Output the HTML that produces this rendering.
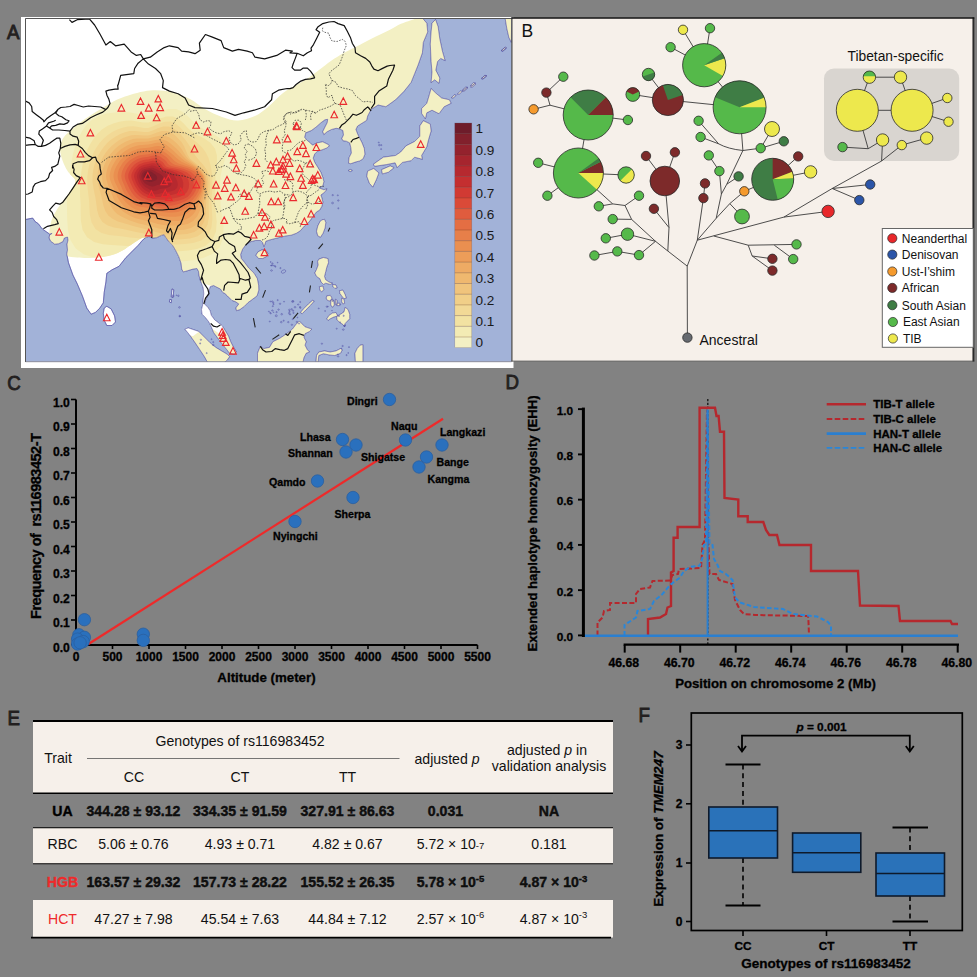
<!DOCTYPE html>
<html><head><meta charset="utf-8"><title>Figure</title>
<style>
html,body{margin:0;padding:0;background:#828282;}
body{width:977px;height:977px;overflow:hidden;font-family:"Liberation Sans", sans-serif;}
svg{display:block;font-family:"Liberation Sans", sans-serif;}
</style></head><body>
<svg width="977" height="977" viewBox="0 0 977 977">
<rect width="977" height="977" fill="#828282"/>
<g id="A">
<rect x="21" y="17" width="492.5" height="351" fill="#fff"/>
<defs>
<clipPath id="mapclip"><rect x="25.5" y="18.5" width="486" height="343"/></clipPath>
<clipPath id="landclip"><path d="M25,18 L422.4,18 L422.4,18 L426.8,23.2 L427.7,31.9 L423.3,42.4 L422.4,52.8 L418.1,65 L414.6,73.7 L411.1,82.4 L404.2,91.1 L395.5,99.8 L385.9,106.7 L378.1,105 L371.1,109.4 L367.7,115.9 L366.6,120.4 L362.1,123.2 L357.6,126 L355.9,129.4 L357.6,133.9 L359.2,137.3 L362.1,142.9 L364.3,148.5 L364.9,154.2 L363.2,158.7 L359.8,160.9 L355.3,162.1 L350.8,163.7 L348.5,163.2 L349.1,157.6 L351.4,153 L350.8,147.4 L349.7,142.9 L346.3,141.2 L342.9,140.7 L341.8,138.4 L343.5,135 L342.9,130.5 L339.5,128.8 L336.2,128.3 L331.7,129.4 L327.2,131.7 L323.8,134.5 L322.7,131.7 L324.9,127.2 L327.2,122.7 L327.7,119.3 L324.9,119.8 L320.4,123.2 L315.9,127.2 L311.4,130.5 L305.8,132.8 L304.6,137.3 L306.9,140.1 L310.3,142.9 L312.5,145.2 L317,142.9 L322.7,141.8 L327.2,144 L329.4,145.7 L327,147.9 L321.9,149.9 L317.8,150.9 L314.7,154 L313.2,158.1 L314.7,162.2 L317.8,167.3 L320.9,172.4 L322.9,177.6 L323.9,181.6 L322.9,185.7 L318.8,187.8 L323.9,189.8 L327,188.8 L325,191.9 L320.9,195 L321.9,198 L322.9,202.1 L321.9,206.2 L319.8,210 L316.5,211.9 L312.5,217.3 L308.5,222.6 L304.5,225.9 L300.5,230.6 L296.5,233.2 L291.2,235.2 L285.9,235.9 L280.6,237.2 L275.2,238.5 L269.9,239.9 L265.9,241.2 L264.6,245.2 L263.9,246.5 L262.6,242.5 L260.6,240.5 L255.3,240.5 L250,241.9 L246,244.5 L242.6,249.2 L240.6,254.5 L241.3,258.5 L244.6,262.5 L248.6,267.8 L254,273.1 L257.3,278.5 L258.6,285.1 L258.8,290.1 L257.1,295.8 L252.5,299.3 L247.9,302.7 L244.5,306.2 L239.9,309.6 L236.5,310.7 L235.9,307.9 L238.8,303.9 L235.3,301.6 L231.9,300.4 L229.6,298.1 L227.3,295.8 L225,293.6 L222.7,292.4 L220.4,289 L215.8,286.7 L213.6,285.5 L210.1,286.7 L209,291.3 L207.8,295.8 L205.5,300.4 L204.4,303.9 L207.8,307.3 L210.1,310.7 L211.3,315.3 L214.7,319.9 L219.3,323.4 L222.1,325.6 L225,330.2 L228.5,336 L230.7,341.7 L233.6,347.4 L236.5,352 L234.2,354.3 L229.6,353.2 L225,347.4 L220.4,341.7 L217,337.1 L213.6,332.5 L211.3,326.8 L209,322.2 L205.5,317.6 L202.1,314.2 L201.5,309.6 L202.7,305 L203.2,299.3 L203.8,293.6 L203.2,287.8 L200.2,280 L199.1,275.8 L198.5,271.3 L196.9,268.5 L192.9,269.1 L187.3,270.8 L183.3,271.9 L181.7,269.1 L181.1,263.4 L178.8,256.7 L176,251.1 L172.7,245.4 L169.3,242.1 L165.9,237.6 L164.2,234.7 L161.4,235.3 L156.9,237.6 L152.4,238.1 L149,236.4 L145.6,237.6 L142.3,240.4 L140,243.2 L138.1,245.4 L132.9,250.6 L125.9,257.6 L119,266.3 L112,269.8 L106.8,273.3 L105.9,282 L104.2,292.4 L103.3,302.8 L99.8,308.1 L95.5,312.4 L91.1,314.2 L86.8,308.1 L82.4,295.9 L77.2,283.7 L72.9,275 L68.5,262.8 L66.8,254.1 L67.5,250 L67,244.2 L68,240.1 L67.5,237 L64.4,238 L62.9,241.6 L58.8,243.7 L54.7,244.2 L50.6,241.1 L49.1,238 L49.6,235 L52.1,233.4 L49.6,234.1 L46.5,231.9 L43.4,229.8 L41.4,227.8 L38.3,223.7 L35.2,221.6 L32.7,218.1 L25,219.6Z M106.8,306.3 L111.1,308.9 L114.6,315.9 L115.5,322 L112,325.5 L106.8,325.5 L104.2,320.2 L103.3,313.3 L104.2,308.1Z M255.9,255.2 L257.9,251.9 L261.9,249.9 L265.9,250.5 L267.9,253.2 L266.6,256.5 L262.6,258.5 L258.6,258.5Z M321.8,219.9 L324.5,219.3 L325.8,222.6 L325.1,227.9 L323.1,233.2 L320.5,237.2 L317.8,235.9 L316.5,231.2 L317.8,225.9 L319.8,221.9Z M318.8,259.2 L323.4,257.5 L328,258.6 L328.5,262.6 L326.8,267.2 L325.7,271.8 L324.5,276.4 L325.7,279.8 L329.1,282.1 L332.5,283.2 L330.2,284.4 L325.7,283.2 L323.4,284.4 L321.1,282.1 L319.9,278.7 L316.5,276.4 L314.8,272.9 L316.5,269.5 L318.2,264.9 L317.6,261.5Z M319.4,286.7 L322.8,286.1 L323.9,289.6 L321.6,291.8 L319.9,290.1Z M339.4,290.7 L342.9,290.1 L345.2,294.7 L346.3,298.1 L344,298.7 L341.7,295.9 L340,293.6Z M332.5,284.4 L336,285 L337.1,287.8 L334.8,288.4 L333.1,286.7Z M326.8,295.9 L330.2,295.3 L332,298.1 L330.2,301 L327.4,300.4 L326.2,298.1Z M331.4,299.3 L333.7,300.4 L334.3,305 L332.5,307.3 L330.8,305 L330.8,301.6Z M335.4,299.3 L337.1,300.4 L336.6,305 L335.4,304.5Z M337.1,303.3 L340,303.3 L339.4,305.6 L337.1,305.6Z M341.7,298.1 L344,299.3 L344.6,303.3 L342.9,303.9 L341.7,301.6Z M336.6,316.5 L340.6,314.2 L344,311.9 L345.2,307.3 L348,309.6 L349.7,314.2 L349.7,318.8 L347.4,321.1 L345.2,323.4 L344.6,326.8 L342.9,324.5 L339.4,322.2 L337.1,319.9Z M326.8,318.8 L329.1,315.3 L332.5,313.1 L336,312.5 L337.7,315.9 L333.7,317.1 L330.2,318.8 L328,320.5Z M300.4,312.5 L303.9,308.5 L308.5,303.9 L312.5,300.4 L314.2,301 L310.8,305 L306.2,309.6 L302.2,313.6Z M257.5,353.2 L260.3,346.3 L263.8,348.6 L269.5,347.4 L272.9,341.7 L279.8,338.3 L286.7,333.7 L292.4,329.1 L295.9,324.5 L299.3,321.1 L301.6,323.4 L305,326.8 L311.9,329.1 L309.6,331.4 L305,333.7 L303.9,337.1 L306.2,341.7 L305,345.2 L307.3,349.7 L309.6,352 L306.2,353.2 L303.9,357.8 L302.7,363.5 L257.5,363.5Z M184.9,329.1 L188.3,327.9 L198.7,331.4 L204.4,337.1 L210.1,342.8 L215.8,347.4 L221.6,350.9 L227.3,354.3 L229.6,356.6 L227.3,360 L223.9,362.9 L207.8,362.9 L204.4,356.6 L199.8,349.7 L195.2,342.8 L189.5,334.8Z M315.9,363.5 L316.5,355.5 L318.8,352 L324.5,350.9 L330.2,352 L336,350.9 L340.6,348.6 L342.3,349.7 L340.6,353.2 L334.8,355.5 L329.1,354.9 L323.4,353.7 L318.8,355.5 L317.9,363.5Z M355.5,363.5 L354.9,353.2 L357.2,348.6 L360.1,345.2 L362.9,344.6 L362.9,363.5Z M432,23.2 L435.5,19.4 L438.1,26.7 L439.8,38.9 L442.4,51.1 L445.1,60.6 L440.7,58.4 L437.6,61.5 L435.8,70.2 L439.8,78 L439,83.3 L434.6,79.8 L431.1,82.7 L432,71.9 L431.1,61.5 L430.3,44.1 L431.1,31.9Z M431.1,88.5 L435.5,92.8 L441.6,98 L449.4,99.8 L451.1,103.3 L444.2,106.7 L439,113.7 L432,110.2 L426.8,112.8 L425.4,118.9 L421.6,113.4 L421.6,108.5 L426.8,103.3 L429.4,94.6Z M423.3,120.7 L430.3,124.1 L431.1,131.1 L428.5,139.8 L426.8,146.8 L421.6,155.5 L422.4,159.3 L414.6,157.2 L411.1,160.7 L402.4,162.4 L397.2,167.6 L395.1,162.8 L386.8,164.5 L374.6,166.3 L373.4,164.2 L383.3,157.2 L395.5,155.5 L400.7,152 L405.9,145.9 L414.6,141.5 L419.8,136.3 L419.8,125.9Z M381.5,169.7 L390.2,165.9 L394.1,167.6 L388.5,172.2 L382.4,173.9Z M367.6,171.1 L373.7,168.5 L378.9,172.9 L376.3,179.8 L372.8,187.1 L369.4,183.3 L366.8,176.3Z M348.2,170.5 L350.2,169.4 L352.3,170.5 L350.2,171.6Z M505.1,18 L511.7,18 L511.3,42.4 L508.9,37.5 L506.8,28.4Z M462.6,89.9 L465.8,87.1 L467.5,87.4 L464.4,90.2Z M457.4,93.9 L460.5,91.1 L462.3,91.4 L459.1,94.2Z M470.5,85.5 L473.6,82.7 L475.3,83.1 L472.2,85.9Z M481.8,78.2 L484.9,75.4 L486.6,75.8 L483.5,78.6Z M501.3,50.7 L504.4,47.9 L506.1,48.3 L503,51.1Z M451.3,97.7 L454.4,94.9 L456.2,95.3 L453.1,98Z M501.2,50.5 L505.2,47.2 L506.5,47.8 L502.8,51Z M470.6,86.8 L474.6,83.5 L475.9,84 L472.1,87.2Z M462.5,90.8 L466.5,87.5 L467.8,88 L464,91.2Z M481.2,78.6 L485.2,75.4 L486.5,75.9 L482.8,79.1Z M172,288.9 L173.8,289.8 L172.9,297.6 L171.2,296.8Z M169.8,299.4 L171.5,299.7 L171.2,302.8 L169.4,302Z"/></clipPath>
<clipPath id="hullclip"><path d="M49.6,240 C49.0,236.8 49.1,233.5 49.6,229.8 C50.1,226.1 50.9,221.7 52.6,217.6 C54.3,213.5 57.1,209.4 59.8,205.3 C62.5,201.2 66.4,197.0 69,193 C71.6,189.0 75.3,184.7 75.5,181.5 C75.7,178.3 71.6,176.2 70,174 C68.4,171.8 67.3,170.9 66,168.4 C64.7,165.9 63.0,162.1 62,159 C61.0,155.9 60.2,152.7 60,150 C59.8,147.3 60.3,145.2 61,143 C61.7,140.8 62.3,139.2 64,137 C65.7,134.8 68.0,132.7 71,130 C74.0,127.3 78.0,124.1 82.3,121 C86.6,117.9 92.0,114.5 96.6,111.6 C101.2,108.7 105.3,105.9 110,103.4 C114.7,100.9 118.3,98.7 125,96.5 C131.7,94.3 142.2,91.2 150,90.5 C157.8,89.8 165.3,90.6 172,92 C178.7,93.4 184.5,96.2 190,99 C195.5,101.8 199.7,106.0 205,109 C210.3,112.0 216.5,115.1 222,117 C227.5,118.9 232.5,120.7 238,120.5 C243.5,120.3 250.0,118.2 255,116 C260.0,113.8 263.3,110.8 268,107 C272.7,103.2 278.0,96.8 283,93 C288.0,89.2 293.6,86.6 298,84 C302.4,81.4 305.7,79.8 309.4,77.3 C313.1,74.8 316.4,71.9 320,69.2 C323.6,66.5 326.9,63.6 330.9,60.9 C334.9,58.2 340.1,55.1 344.2,52.8 C348.3,50.5 350.9,49.5 355.5,47.1 C360.1,44.7 366.1,41.3 371.9,38.4 C377.6,35.5 385.1,32.1 390,29.7 C394.9,27.3 396.9,25.6 401,23.8 C405.1,22.0 411.8,20.0 414.6,18.9 C417.4,17.8 400.4,17.3 418,17 C435.6,16.7 503.0,-41.8 520,17 C537.0,75.8 575.0,311.2 520,370 C465.0,428.8 245.0,381.7 190,370 C135.0,358.3 192.5,318.0 190,300 C187.5,282.0 180.0,270.8 175,262 C170.0,253.2 164.0,250.2 160,247 C156.0,243.8 153.2,244.2 151,243 C148.8,241.8 147.8,240.4 146.5,239.5 C145.2,238.6 145.2,236.9 143,237.6 C140.8,238.3 136.4,241.3 133,243.5 C129.6,245.7 126.0,248.6 122.5,250.5 C119.0,252.4 116.7,253.8 112,255 C107.3,256.2 100.4,257.4 94.6,257.8 C88.8,258.2 82.1,258.1 77,257.6 C71.9,257.1 68.0,256.4 64,255 C60.0,253.6 55.4,251.5 53,249 C50.6,246.5 50.2,243.2 49.6,240Z"/></clipPath>
</defs>
<g clip-path="url(#mapclip)">
<rect x="25" y="18" width="487" height="344" fill="#a2b2d8"/>
<path d="M25,18 L422.4,18 L422.4,18 L426.8,23.2 L427.7,31.9 L423.3,42.4 L422.4,52.8 L418.1,65 L414.6,73.7 L411.1,82.4 L404.2,91.1 L395.5,99.8 L385.9,106.7 L378.1,105 L371.1,109.4 L367.7,115.9 L366.6,120.4 L362.1,123.2 L357.6,126 L355.9,129.4 L357.6,133.9 L359.2,137.3 L362.1,142.9 L364.3,148.5 L364.9,154.2 L363.2,158.7 L359.8,160.9 L355.3,162.1 L350.8,163.7 L348.5,163.2 L349.1,157.6 L351.4,153 L350.8,147.4 L349.7,142.9 L346.3,141.2 L342.9,140.7 L341.8,138.4 L343.5,135 L342.9,130.5 L339.5,128.8 L336.2,128.3 L331.7,129.4 L327.2,131.7 L323.8,134.5 L322.7,131.7 L324.9,127.2 L327.2,122.7 L327.7,119.3 L324.9,119.8 L320.4,123.2 L315.9,127.2 L311.4,130.5 L305.8,132.8 L304.6,137.3 L306.9,140.1 L310.3,142.9 L312.5,145.2 L317,142.9 L322.7,141.8 L327.2,144 L329.4,145.7 L327,147.9 L321.9,149.9 L317.8,150.9 L314.7,154 L313.2,158.1 L314.7,162.2 L317.8,167.3 L320.9,172.4 L322.9,177.6 L323.9,181.6 L322.9,185.7 L318.8,187.8 L323.9,189.8 L327,188.8 L325,191.9 L320.9,195 L321.9,198 L322.9,202.1 L321.9,206.2 L319.8,210 L316.5,211.9 L312.5,217.3 L308.5,222.6 L304.5,225.9 L300.5,230.6 L296.5,233.2 L291.2,235.2 L285.9,235.9 L280.6,237.2 L275.2,238.5 L269.9,239.9 L265.9,241.2 L264.6,245.2 L263.9,246.5 L262.6,242.5 L260.6,240.5 L255.3,240.5 L250,241.9 L246,244.5 L242.6,249.2 L240.6,254.5 L241.3,258.5 L244.6,262.5 L248.6,267.8 L254,273.1 L257.3,278.5 L258.6,285.1 L258.8,290.1 L257.1,295.8 L252.5,299.3 L247.9,302.7 L244.5,306.2 L239.9,309.6 L236.5,310.7 L235.9,307.9 L238.8,303.9 L235.3,301.6 L231.9,300.4 L229.6,298.1 L227.3,295.8 L225,293.6 L222.7,292.4 L220.4,289 L215.8,286.7 L213.6,285.5 L210.1,286.7 L209,291.3 L207.8,295.8 L205.5,300.4 L204.4,303.9 L207.8,307.3 L210.1,310.7 L211.3,315.3 L214.7,319.9 L219.3,323.4 L222.1,325.6 L225,330.2 L228.5,336 L230.7,341.7 L233.6,347.4 L236.5,352 L234.2,354.3 L229.6,353.2 L225,347.4 L220.4,341.7 L217,337.1 L213.6,332.5 L211.3,326.8 L209,322.2 L205.5,317.6 L202.1,314.2 L201.5,309.6 L202.7,305 L203.2,299.3 L203.8,293.6 L203.2,287.8 L200.2,280 L199.1,275.8 L198.5,271.3 L196.9,268.5 L192.9,269.1 L187.3,270.8 L183.3,271.9 L181.7,269.1 L181.1,263.4 L178.8,256.7 L176,251.1 L172.7,245.4 L169.3,242.1 L165.9,237.6 L164.2,234.7 L161.4,235.3 L156.9,237.6 L152.4,238.1 L149,236.4 L145.6,237.6 L142.3,240.4 L140,243.2 L138.1,245.4 L132.9,250.6 L125.9,257.6 L119,266.3 L112,269.8 L106.8,273.3 L105.9,282 L104.2,292.4 L103.3,302.8 L99.8,308.1 L95.5,312.4 L91.1,314.2 L86.8,308.1 L82.4,295.9 L77.2,283.7 L72.9,275 L68.5,262.8 L66.8,254.1 L67.5,250 L67,244.2 L68,240.1 L67.5,237 L64.4,238 L62.9,241.6 L58.8,243.7 L54.7,244.2 L50.6,241.1 L49.1,238 L49.6,235 L52.1,233.4 L49.6,234.1 L46.5,231.9 L43.4,229.8 L41.4,227.8 L38.3,223.7 L35.2,221.6 L32.7,218.1 L25,219.6Z M106.8,306.3 L111.1,308.9 L114.6,315.9 L115.5,322 L112,325.5 L106.8,325.5 L104.2,320.2 L103.3,313.3 L104.2,308.1Z M255.9,255.2 L257.9,251.9 L261.9,249.9 L265.9,250.5 L267.9,253.2 L266.6,256.5 L262.6,258.5 L258.6,258.5Z M321.8,219.9 L324.5,219.3 L325.8,222.6 L325.1,227.9 L323.1,233.2 L320.5,237.2 L317.8,235.9 L316.5,231.2 L317.8,225.9 L319.8,221.9Z M318.8,259.2 L323.4,257.5 L328,258.6 L328.5,262.6 L326.8,267.2 L325.7,271.8 L324.5,276.4 L325.7,279.8 L329.1,282.1 L332.5,283.2 L330.2,284.4 L325.7,283.2 L323.4,284.4 L321.1,282.1 L319.9,278.7 L316.5,276.4 L314.8,272.9 L316.5,269.5 L318.2,264.9 L317.6,261.5Z M319.4,286.7 L322.8,286.1 L323.9,289.6 L321.6,291.8 L319.9,290.1Z M339.4,290.7 L342.9,290.1 L345.2,294.7 L346.3,298.1 L344,298.7 L341.7,295.9 L340,293.6Z M332.5,284.4 L336,285 L337.1,287.8 L334.8,288.4 L333.1,286.7Z M326.8,295.9 L330.2,295.3 L332,298.1 L330.2,301 L327.4,300.4 L326.2,298.1Z M331.4,299.3 L333.7,300.4 L334.3,305 L332.5,307.3 L330.8,305 L330.8,301.6Z M335.4,299.3 L337.1,300.4 L336.6,305 L335.4,304.5Z M337.1,303.3 L340,303.3 L339.4,305.6 L337.1,305.6Z M341.7,298.1 L344,299.3 L344.6,303.3 L342.9,303.9 L341.7,301.6Z M336.6,316.5 L340.6,314.2 L344,311.9 L345.2,307.3 L348,309.6 L349.7,314.2 L349.7,318.8 L347.4,321.1 L345.2,323.4 L344.6,326.8 L342.9,324.5 L339.4,322.2 L337.1,319.9Z M326.8,318.8 L329.1,315.3 L332.5,313.1 L336,312.5 L337.7,315.9 L333.7,317.1 L330.2,318.8 L328,320.5Z M300.4,312.5 L303.9,308.5 L308.5,303.9 L312.5,300.4 L314.2,301 L310.8,305 L306.2,309.6 L302.2,313.6Z M257.5,353.2 L260.3,346.3 L263.8,348.6 L269.5,347.4 L272.9,341.7 L279.8,338.3 L286.7,333.7 L292.4,329.1 L295.9,324.5 L299.3,321.1 L301.6,323.4 L305,326.8 L311.9,329.1 L309.6,331.4 L305,333.7 L303.9,337.1 L306.2,341.7 L305,345.2 L307.3,349.7 L309.6,352 L306.2,353.2 L303.9,357.8 L302.7,363.5 L257.5,363.5Z M184.9,329.1 L188.3,327.9 L198.7,331.4 L204.4,337.1 L210.1,342.8 L215.8,347.4 L221.6,350.9 L227.3,354.3 L229.6,356.6 L227.3,360 L223.9,362.9 L207.8,362.9 L204.4,356.6 L199.8,349.7 L195.2,342.8 L189.5,334.8Z M315.9,363.5 L316.5,355.5 L318.8,352 L324.5,350.9 L330.2,352 L336,350.9 L340.6,348.6 L342.3,349.7 L340.6,353.2 L334.8,355.5 L329.1,354.9 L323.4,353.7 L318.8,355.5 L317.9,363.5Z M355.5,363.5 L354.9,353.2 L357.2,348.6 L360.1,345.2 L362.9,344.6 L362.9,363.5Z M432,23.2 L435.5,19.4 L438.1,26.7 L439.8,38.9 L442.4,51.1 L445.1,60.6 L440.7,58.4 L437.6,61.5 L435.8,70.2 L439.8,78 L439,83.3 L434.6,79.8 L431.1,82.7 L432,71.9 L431.1,61.5 L430.3,44.1 L431.1,31.9Z M431.1,88.5 L435.5,92.8 L441.6,98 L449.4,99.8 L451.1,103.3 L444.2,106.7 L439,113.7 L432,110.2 L426.8,112.8 L425.4,118.9 L421.6,113.4 L421.6,108.5 L426.8,103.3 L429.4,94.6Z M423.3,120.7 L430.3,124.1 L431.1,131.1 L428.5,139.8 L426.8,146.8 L421.6,155.5 L422.4,159.3 L414.6,157.2 L411.1,160.7 L402.4,162.4 L397.2,167.6 L395.1,162.8 L386.8,164.5 L374.6,166.3 L373.4,164.2 L383.3,157.2 L395.5,155.5 L400.7,152 L405.9,145.9 L414.6,141.5 L419.8,136.3 L419.8,125.9Z M381.5,169.7 L390.2,165.9 L394.1,167.6 L388.5,172.2 L382.4,173.9Z M367.6,171.1 L373.7,168.5 L378.9,172.9 L376.3,179.8 L372.8,187.1 L369.4,183.3 L366.8,176.3Z M348.2,170.5 L350.2,169.4 L352.3,170.5 L350.2,171.6Z M505.1,18 L511.7,18 L511.3,42.4 L508.9,37.5 L506.8,28.4Z M462.6,89.9 L465.8,87.1 L467.5,87.4 L464.4,90.2Z M457.4,93.9 L460.5,91.1 L462.3,91.4 L459.1,94.2Z M470.5,85.5 L473.6,82.7 L475.3,83.1 L472.2,85.9Z M481.8,78.2 L484.9,75.4 L486.6,75.8 L483.5,78.6Z M501.3,50.7 L504.4,47.9 L506.1,48.3 L503,51.1Z M451.3,97.7 L454.4,94.9 L456.2,95.3 L453.1,98Z M501.2,50.5 L505.2,47.2 L506.5,47.8 L502.8,51Z M470.6,86.8 L474.6,83.5 L475.9,84 L472.1,87.2Z M462.5,90.8 L466.5,87.5 L467.8,88 L464,91.2Z M481.2,78.6 L485.2,75.4 L486.5,75.9 L482.8,79.1Z M172,288.9 L173.8,289.8 L172.9,297.6 L171.2,296.8Z M169.8,299.4 L171.5,299.7 L171.2,302.8 L169.4,302Z" fill="#fff" stroke="#5a58a8" stroke-width="0.5"/>
<g clip-path="url(#landclip)"><g clip-path="url(#hullclip)" style="isolation:isolate">
<rect x="25" y="18" width="487" height="344" fill="#f3f0c4"/>
<path d="M220.6,176 L220.2,183.1 L220.1,190.3 L220.3,197.8 L220.6,206 L221.9,215.4 L223.5,226.3 L223.3,237.5 L219.6,247.3 L212.4,254.1 L203.2,258.1 L193.3,260.2 L183.7,261.3 L174.2,261.2 L164.9,259.4 L156.3,257.3 L148.3,256.1 L140.4,256.6 L132,258.1 L123,259.4 L113.7,259.5 L104,258.8 L93.8,257.5 L84,254.4 L75.7,248.6 L70.4,239.9 L67.9,229.7 L67.2,219.3 L67,209.7 L66.9,200.7 L67.6,192.1 L68.6,183.8 L69.8,176 L70.8,168.4 L71.7,160.8 L73.1,153.2 L75.4,145.8 L78.3,138.6 L81.8,131.6 L86.3,125.1 L92,119.7 L99,115.9 L106.6,113.5 L114.3,112.4 L121.7,111.8 L128.9,112.2 L135.9,113.5 L142.3,114.9 L148.3,115.4 L154.4,113.8 L161.2,111 L168.7,108.9 L176.1,108.9 L182.6,111.8 L188.1,116.4 L193,121.5 L198.2,126.1 L204.8,129.6 L212.4,133.2 L219.5,137.9 L224.5,144.4 L225.9,152.4 L224.6,160.8 L222.2,168.7Z" fill="#f3ebb4"/>
<path d="M215.5,176 L215.4,182.6 L215.2,189.3 L215,196.2 L215,203.6 L215.7,212 L216.7,221.7 L216,231.6 L212.4,240.1 L205.6,245.8 L197.1,249 L188.1,250.5 L179.4,251.2 L171,250.9 L162.9,249.3 L155.3,247.3 L148.3,245.9 L141.5,245.5 L134.4,245.7 L127.1,245.9 L119.5,245.5 L111.4,245 L102.7,244.3 L94.1,242.1 L87,237.3 L82.6,229.9 L80.9,221.1 L80.6,212.2 L80.6,204.1 L80.1,196.7 L80,189.6 L80.1,182.7 L80.7,176 L81.7,169.4 L82.9,163 L84.6,156.7 L86.9,150.6 L89.8,144.7 L93.2,139.2 L97.1,134 L101.9,129.6 L107.3,126.1 L113.2,123.5 L119.3,121.8 L125.4,120.7 L131.5,120.6 L137.4,121.4 L143,122.4 L148.3,122.5 L153.7,120.9 L159.8,118.4 L166.4,116.4 L173,116.4 L178.7,119.1 L183.5,123.3 L187.8,127.9 L192.3,132 L197.9,135.3 L204.3,138.6 L210.4,142.8 L215,148.4 L216.9,155.2 L216.9,162.3 L216,169.3Z" fill="#f2e2a2"/>
<path d="M212.2,176 L212.5,182.3 L212.3,188.7 L211.8,195.3 L211.4,202.1 L211.9,210 L212.4,218.8 L211.4,227.8 L207.7,235.4 L201.2,240.5 L193.1,243.1 L184.7,244.1 L176.7,244.4 L169,244.1 L161.6,242.8 L154.7,241 L148.3,239.5 L142.1,238.7 L136,238 L129.7,237.4 L123.3,236.5 L116.4,235.7 L108.9,235 L101.5,233 L95.4,228.9 L91.6,222.6 L89.9,215 L89.4,207.5 L89.1,200.5 L88.3,194.2 L87.6,188.1 L87.2,182 L87.4,176 L88.2,170.1 L89.4,164.3 L91.1,158.6 L93.3,153.2 L96.1,148.1 L99.4,143.3 L103.2,139 L107.5,135.2 L112.2,132 L117.3,129.5 L122.5,127.7 L127.8,126.5 L133.2,126.3 L138.6,127.1 L143.6,127.9 L148.3,127.9 L153.2,126.3 L158.7,123.7 L164.8,121.7 L170.8,121.6 L176.1,123.9 L180.6,127.7 L184.5,131.9 L188.4,135.9 L192.8,139.4 L197.5,143.1 L202,147.3 L205.7,152.2 L208.4,157.8 L210.2,163.7 L211.4,169.8Z" fill="#f2d996"/>
<path d="M209.5,176 L210.4,182.1 L210.1,188.3 L209.3,194.5 L208.6,201 L208.7,208.3 L208.9,216.5 L207.6,224.7 L203.9,231.6 L197.7,236.2 L190.1,238.5 L182.1,239.3 L174.6,239.5 L167.4,239.1 L160.6,237.8 L154.2,236.1 L148.3,234.5 L142.7,233.3 L137.1,232.2 L131.6,231 L126,229.7 L120.2,228.6 L113.9,227.5 L107.7,225.5 L102.4,221.9 L99,216.5 L97.1,210.2 L96.3,203.8 L95.5,197.9 L94.3,192.4 L93.3,187 L92.5,181.5 L92.5,176 L93.1,170.6 L94.3,165.3 L96.1,160.2 L98.3,155.3 L101,150.7 L104.1,146.5 L107.6,142.6 L111.5,139.2 L115.8,136.4 L120.3,134.1 L125,132.3 L129.7,131.1 L134.6,130.9 L139.4,131.4 L144,132.1 L148.3,132 L152.8,130.5 L157.8,128.3 L163.3,126.5 L168.9,126.4 L173.8,128.4 L178,131.6 L181.6,135.4 L185,139.3 L188,143.4 L190.6,147.7 L193.1,152.1 L195.8,156.3 L199.3,160.5 L203.3,165.1 L207,170.2Z" fill="#f1cf88"/>
<path d="M207.3,176 L208.5,181.9 L208.2,187.9 L207.2,193.9 L206.3,200 L206,206.8 L205.7,214.3 L204,221.7 L200.3,228 L194.3,232 L187.1,234 L179.6,234.6 L172.6,234.7 L166,234.3 L159.7,233.1 L153.8,231.5 L148.3,229.9 L143.1,228.6 L138.1,227.3 L133.1,226 L128.2,224.4 L123.2,222.9 L118,221.4 L112.9,219.1 L108.5,215.8 L105.4,211.2 L103.5,205.9 L102.3,200.6 L101.2,195.5 L99.8,190.7 L98.5,185.9 L97.6,181 L97.3,176 L97.9,171 L99.1,166.2 L100.8,161.6 L102.9,157.2 L105.4,153.1 L108.4,149.3 L111.6,145.9 L115.2,142.9 L119,140.3 L123,138.1 L127.2,136.5 L131.4,135.3 L135.8,134.9 L140.2,135.2 L144.3,135.6 L148.3,135.5 L152.4,134.3 L157,132.5 L161.9,131.1 L166.9,131.1 L171.4,132.8 L175.3,135.6 L178.7,139 L181.8,142.5 L184.2,146.5 L186,150.8 L187.7,154.9 L190.1,158.7 L194.1,162.1 L199.1,165.9 L203.9,170.5Z" fill="#f0c47c"/>
<path d="M205.5,176 L206.7,181.8 L206.6,187.6 L205.6,193.4 L204.5,199.3 L203.8,205.6 L202.8,212.4 L200.7,219 L196.7,224.4 L191,228 L184.2,229.7 L177.2,230.1 L170.7,230.1 L164.6,229.7 L158.8,228.6 L153.3,227.1 L148.3,225.7 L143.5,224.5 L138.9,223.4 L134.3,222.1 L129.9,220.5 L125.5,218.6 L121.3,216.5 L117.2,213.9 L113.7,210.6 L111,206.6 L109.1,202.2 L107.6,197.7 L106.3,193.4 L104.8,189.2 L103.4,184.9 L102.3,180.5 L101.9,176 L102.4,171.5 L103.5,167.1 L105.2,162.9 L107.2,159 L109.5,155.3 L112.2,151.9 L115.2,148.8 L118.4,146.1 L121.9,143.8 L125.4,141.8 L129.1,140.2 L133,139 L136.9,138.4 L140.8,138.4 L144.6,138.6 L148.3,138.5 L152.1,137.6 L156.2,136.4 L160.6,135.5 L165,135.8 L169,137.3 L172.6,139.7 L175.8,142.5 L178.8,145.5 L181.5,148.8 L183.7,152.4 L185.9,155.9 L188.7,159.3 L192.8,162.5 L197.6,166.2 L202.3,170.7Z" fill="#efb86f"/>
<path d="M204.3,176 L205.5,181.6 L205.3,187.3 L204.2,193 L202.8,198.6 L201.5,204.5 L199.9,210.5 L197.3,216.2 L193.2,220.9 L187.6,223.9 L181.3,225.3 L174.8,225.6 L168.8,225.5 L163.2,225 L157.8,223.9 L152.9,222.6 L148.3,221.3 L143.9,220.2 L139.7,219.3 L135.5,218.2 L131.5,216.6 L127.7,214.6 L124.1,212.2 L120.8,209.5 L117.9,206.4 L115.5,202.9 L113.7,199.1 L112.2,195.3 L110.7,191.6 L109.2,187.9 L107.7,184.1 L106.5,180.1 L106,176 L106.5,171.9 L107.6,167.9 L109.2,164.1 L111.1,160.6 L113.3,157.3 L115.8,154.3 L118.5,151.5 L121.4,149.1 L124.5,147 L127.7,145.2 L131,143.7 L134.4,142.5 L137.9,141.9 L141.5,141.7 L144.9,141.7 L148.3,141.5 L151.8,140.8 L155.5,139.9 L159.4,139.4 L163.3,139.7 L166.9,141.1 L170.2,143.3 L173.1,145.8 L176,148.3 L178.8,151 L181.2,154 L183.8,157 L187,160 L191.2,163 L196.3,166.5 L201,170.8Z" fill="#eeab64"/>
<path d="M203.6,176 L204.8,181.6 L204.4,187.2 L203,192.6 L201.2,197.9 L199.3,203.3 L197,208.6 L193.9,213.4 L189.7,217.4 L184.3,219.9 L178.4,221 L172.4,221.1 L166.9,220.9 L161.7,220.3 L156.9,219.2 L152.4,217.9 L148.3,216.7 L144.4,215.8 L140.5,215 L136.7,214.1 L133.1,212.7 L129.7,210.8 L126.6,208.5 L123.7,206 L121.2,203.1 L119,200 L117.3,196.7 L115.9,193.3 L114.5,190 L113,186.7 L111.4,183.3 L110.1,179.8 L109.6,176 L110.1,172.2 L111.2,168.6 L112.8,165.2 L114.6,162 L116.7,159.1 L119,156.4 L121.5,154 L124.1,151.8 L126.9,150 L129.8,148.3 L132.8,147 L135.8,145.9 L139,145.3 L142.1,145 L145.2,144.8 L148.3,144.5 L151.5,143.9 L154.9,143.1 L158.4,142.6 L162,142.9 L165.3,144.3 L168.1,146.3 L170.8,148.6 L173.5,150.8 L176.1,153.2 L178.7,155.7 L181.5,158.3 L184.8,160.9 L189.4,163.5 L194.9,166.7 L200.1,170.9Z" fill="#ec9d59"/>
<path d="M202.8,176 L204,181.5 L203.5,187 L201.7,192.2 L199.6,197.2 L197.2,202.1 L194.2,206.7 L190.6,210.7 L186.2,213.9 L181,215.9 L175.5,216.7 L170.1,216.8 L165,216.4 L160.4,215.8 L156,214.7 L152,213.4 L148.3,212.3 L144.8,211.5 L141.4,210.9 L137.9,210.2 L134.6,209 L131.6,207.2 L128.9,205.1 L126.4,202.7 L124.1,200.2 L122.2,197.4 L120.7,194.5 L119.3,191.5 L118.1,188.5 L116.6,185.6 L115.1,182.6 L114,179.4 L113.5,176 L113.9,172.6 L114.9,169.4 L116.4,166.3 L118.1,163.5 L119.9,160.8 L122,158.4 L124.3,156.3 L126.7,154.4 L129.2,152.8 L131.8,151.3 L134.5,150.2 L137.2,149.2 L140,148.6 L142.8,148.3 L145.6,148.1 L148.3,147.8 L151.1,147.2 L154.2,146.4 L157.4,145.9 L160.7,146.2 L163.6,147.4 L166.2,149.2 L168.6,151.2 L171.1,153.2 L173.6,155.3 L175.9,157.5 L178.6,159.8 L182,162 L187,164.3 L193.1,167.1 L198.9,171Z" fill="#ea8f50"/>
<path d="M201.8,176 L203.2,181.4 L202.5,186.8 L200.6,191.9 L198,196.6 L195,201 L191.4,204.8 L187.2,207.9 L182.6,210.3 L177.8,211.9 L172.7,212.6 L167.8,212.5 L163.3,212.2 L159.1,211.5 L155.1,210.4 L151.6,209.1 L148.3,208.1 L145.2,207.4 L142.1,207 L139.1,206.5 L136.1,205.4 L133.4,203.8 L131,201.9 L128.8,199.7 L126.9,197.4 L125.2,195 L123.7,192.4 L122.5,189.8 L121.4,187.1 L120.2,184.5 L118.9,181.8 L117.9,179 L117.6,176 L117.9,173 L118.7,170.1 L119.9,167.4 L121.4,164.9 L123,162.5 L124.9,160.4 L127,158.5 L129.2,156.9 L131.4,155.4 L133.7,154.2 L136.1,153.2 L138.5,152.4 L141,151.9 L143.5,151.7 L145.9,151.5 L148.3,151.2 L150.8,150.6 L153.5,149.9 L156.4,149.4 L159.3,149.5 L162,150.5 L164.4,151.9 L166.6,153.6 L168.9,155.4 L171,157.3 L172.9,159.5 L175.2,161.6 L178.4,163.5 L183.8,165.2 L190.7,167.6 L197.4,171.2Z" fill="#e77f49"/>
<path d="M199.3,176 L200.9,181.2 L200.4,186.4 L198.5,191.2 L195.9,195.7 L192.7,199.7 L188.6,202.9 L184.1,205.4 L179.5,207.2 L174.9,208.4 L170.3,208.9 L165.9,208.9 L161.8,208.5 L158,207.8 L154.4,206.8 L151.2,205.8 L148.3,204.8 L145.5,204.2 L142.8,203.8 L140,203.2 L137.4,202.2 L135.1,200.8 L133,199 L131.1,197 L129.4,194.9 L127.9,192.7 L126.6,190.5 L125.5,188.2 L124.5,185.8 L123.5,183.5 L122.4,181.1 L121.6,178.6 L121.3,176 L121.6,173.4 L122.3,170.8 L123.3,168.4 L124.6,166.2 L126.1,164.1 L127.7,162.3 L129.6,160.6 L131.5,159.2 L133.5,157.9 L135.5,156.9 L137.6,156 L139.7,155.3 L141.9,154.9 L144.1,154.7 L146.2,154.5 L148.3,154.2 L150.5,153.7 L152.9,153 L155.4,152.5 L158,152.6 L160.4,153.4 L162.6,154.6 L164.7,156 L166.8,157.5 L168.6,159.4 L170.1,161.4 L172,163.3 L175.1,164.9 L180.5,166.2 L187.7,168.2 L194.6,171.4Z" fill="#e46e43"/>
<path d="M195.3,176 L197.1,180.8 L197.1,185.7 L195.7,190.4 L193.3,194.7 L190.1,198.3 L185.9,201.1 L181.3,203.1 L176.8,204.5 L172.5,205.5 L168.2,205.8 L164.2,205.8 L160.5,205.4 L157.1,204.9 L153.9,204.2 L151,203.3 L148.3,202.5 L145.8,201.8 L143.3,201.2 L140.9,200.5 L138.6,199.4 L136.6,197.9 L134.8,196.3 L133.2,194.4 L131.7,192.6 L130.5,190.6 L129.4,188.6 L128.4,186.6 L127.5,184.6 L126.6,182.6 L125.7,180.5 L125,178.3 L124.7,176 L125,173.7 L125.7,171.5 L126.6,169.4 L127.7,167.5 L129,165.7 L130.4,164.1 L132,162.6 L133.6,161.3 L135.4,160.2 L137.1,159.3 L139,158.5 L140.8,157.9 L142.7,157.5 L144.6,157.2 L146.4,157.1 L148.3,156.8 L150.2,156.3 L152.3,155.7 L154.6,155.4 L156.8,155.4 L158.9,156.1 L160.9,157.1 L162.7,158.4 L164.6,159.7 L166.2,161.3 L167.4,163.2 L169.1,164.9 L171.9,166.2 L177.1,167.3 L183.9,168.9 L190.7,171.8Z" fill="#e05c3e"/>
<path d="M191.3,176 L193.4,180.4 L193.8,185 L192.8,189.5 L190.7,193.6 L187.5,196.9 L183.1,199.3 L178.5,200.8 L174.1,201.8 L170.1,202.5 L166.2,202.8 L162.5,202.7 L159.2,202.4 L156.2,202 L153.4,201.5 L150.8,200.9 L148.3,200.2 L146,199.4 L143.8,198.6 L141.7,197.7 L139.8,196.6 L138.1,195.1 L136.6,193.5 L135.3,191.9 L134.1,190.2 L133,188.5 L132.1,186.8 L131.3,185.1 L130.5,183.4 L129.7,181.6 L128.9,179.8 L128.4,178 L128.2,176 L128.4,174 L129,172.2 L129.9,170.4 L130.9,168.8 L131.9,167.2 L133.1,165.9 L134.4,164.6 L135.8,163.5 L137.3,162.6 L138.8,161.7 L140.3,161.1 L141.9,160.5 L143.5,160.1 L145.1,159.8 L146.7,159.6 L148.3,159.4 L150,159 L151.8,158.5 L153.7,158.2 L155.6,158.3 L157.5,158.8 L159.2,159.7 L160.8,160.8 L162.4,161.9 L163.7,163.3 L164.8,165 L166.2,166.5 L168.8,167.5 L173.6,168.3 L180.2,169.7 L186.7,172.2Z" fill="#da4a38"/>
<path d="M186.3,176 L188.4,180 L189.2,184.1 L188.7,188.2 L187,192 L183.9,195 L179.7,196.9 L175.2,198.1 L171.1,198.8 L167.5,199.4 L164.1,199.7 L161,199.7 L158,199.5 L155.3,199.2 L152.8,198.8 L150.5,198.3 L148.3,197.6 L146.2,196.8 L144.3,196 L142.5,195 L140.9,193.8 L139.5,192.5 L138.2,191.1 L137.1,189.6 L136.2,188.1 L135.3,186.7 L134.5,185.2 L133.8,183.7 L133.2,182.3 L132.5,180.8 L131.9,179.3 L131.4,177.7 L131.3,176 L131.5,174.3 L132.1,172.8 L132.8,171.3 L133.6,169.9 L134.5,168.6 L135.5,167.4 L136.6,166.4 L137.7,165.4 L138.9,164.6 L140.2,163.9 L141.5,163.4 L142.9,162.9 L144.2,162.5 L145.6,162.3 L146.9,162 L148.3,161.8 L149.7,161.4 L151.3,161.1 L152.9,160.8 L154.6,160.9 L156.2,161.3 L157.6,162 L159.1,162.9 L160.5,163.8 L161.7,165 L162.6,166.4 L163.9,167.6 L166.3,168.6 L170.6,169.2 L176.4,170.4 L182.1,172.7Z" fill="#d13a33"/>
<path d="M180.3,176 L182.3,179.3 L183.3,183 L183.2,186.6 L182,190 L179.3,192.5 L175.4,194.1 L171.4,195 L167.8,195.5 L164.9,196.2 L162.1,196.6 L159.5,196.9 L157,196.9 L154.6,196.6 L152.3,196.2 L150.2,195.5 L148.3,194.8 L146.5,194 L144.9,193.2 L143.4,192.3 L142,191.2 L140.8,190.1 L139.7,188.8 L138.8,187.6 L138,186.3 L137.3,185.1 L136.6,183.8 L136,182.6 L135.5,181.3 L135,180 L134.6,178.7 L134.2,177.4 L134.1,176 L134.3,174.6 L134.7,173.3 L135.3,172.1 L136,170.9 L136.7,169.8 L137.5,168.8 L138.4,167.9 L139.3,167 L140.4,166.4 L141.5,165.8 L142.6,165.4 L143.7,165 L144.9,164.7 L146,164.5 L147.1,164.3 L148.3,164.1 L149.5,163.8 L150.8,163.5 L152.2,163.2 L153.6,163.2 L155,163.5 L156.3,164.1 L157.6,164.7 L158.9,165.4 L160.1,166.3 L161.1,167.4 L162.4,168.5 L164.5,169.3 L167.9,170 L172.5,171.2 L177,173.2Z" fill="#c42f30"/>
<path d="M174.3,176 L176.1,178.7 L177.4,181.8 L177.8,185 L177,187.9 L174.7,190.1 L171.2,191.3 L167.6,191.9 L164.6,192.3 L162.2,192.9 L160.1,193.6 L158,194.1 L155.9,194.3 L153.8,194.1 L151.8,193.5 L150,192.8 L148.3,192 L146.8,191.2 L145.4,190.4 L144.2,189.6 L143.1,188.6 L142.1,187.6 L141.2,186.6 L140.5,185.6 L139.8,184.5 L139.2,183.5 L138.7,182.4 L138.3,181.4 L137.9,180.3 L137.5,179.3 L137.2,178.2 L137,177.1 L136.9,176 L137.1,174.9 L137.4,173.8 L137.8,172.8 L138.3,171.9 L138.9,171 L139.5,170.1 L140.2,169.3 L141,168.7 L141.8,168.1 L142.8,167.7 L143.7,167.4 L144.6,167.1 L145.5,166.9 L146.5,166.7 L147.4,166.6 L148.3,166.4 L149.3,166.1 L150.3,165.9 L151.4,165.6 L152.6,165.6 L153.8,165.8 L154.9,166.1 L156.1,166.6 L157.3,167 L158.4,167.7 L159.6,168.5 L160.9,169.3 L162.7,170 L165.3,170.8 L168.6,172 L171.8,173.7Z" fill="#b6292f"/>
<path d="M168.4,176 L169.9,178.1 L171,180.5 L171.5,183 L171,185.4 L169.1,187.1 L166.3,188.1 L163.5,188.4 L161.1,188.8 L159.2,189.3 L157.7,190 L156.1,190.6 L154.4,190.8 L152.7,190.7 L151.1,190.2 L149.6,189.5 L148.3,188.8 L147.1,188.1 L146,187.5 L145,186.8 L144.1,186 L143.4,185.3 L142.7,184.4 L142,183.6 L141.5,182.8 L141.1,181.9 L140.7,181.1 L140.3,180.3 L140,179.4 L139.8,178.6 L139.5,177.7 L139.4,176.9 L139.3,176 L139.5,175.1 L139.7,174.3 L140,173.5 L140.4,172.7 L140.8,172 L141.3,171.3 L141.8,170.7 L142.4,170.1 L143.1,169.7 L143.9,169.4 L144.6,169.1 L145.4,168.9 L146.1,168.7 L146.8,168.6 L147.6,168.5 L148.3,168.3 L149.1,168.1 L149.9,167.9 L150.8,167.8 L151.7,167.7 L152.7,167.8 L153.6,168.1 L154.6,168.4 L155.6,168.7 L156.6,169.2 L157.6,169.8 L158.8,170.4 L160.2,171.1 L162.1,171.8 L164.3,172.8 L166.6,174.2Z" fill="#a6252e"/>
<path d="M162.5,176 L163.4,177.5 L164.1,179.1 L164.3,180.9 L163.9,182.5 L162.6,183.7 L160.8,184.3 L158.9,184.7 L157.3,185 L156,185.4 L154.9,185.9 L153.8,186.3 L152.6,186.5 L151.5,186.4 L150.3,186.1 L149.3,185.7 L148.3,185.2 L147.4,184.8 L146.6,184.4 L145.9,183.9 L145.2,183.4 L144.6,182.9 L144.1,182.3 L143.6,181.8 L143.1,181.2 L142.8,180.5 L142.4,179.9 L142.2,179.3 L141.9,178.6 L141.7,178 L141.5,177.3 L141.4,176.7 L141.4,176 L141.5,175.3 L141.6,174.7 L141.9,174 L142.1,173.4 L142.4,172.9 L142.8,172.3 L143.2,171.8 L143.7,171.4 L144.2,171 L144.8,170.7 L145.4,170.5 L145.9,170.3 L146.5,170.2 L147.1,170 L147.7,170 L148.3,169.9 L148.9,169.8 L149.6,169.7 L150.2,169.6 L150.9,169.6 L151.7,169.7 L152.4,169.9 L153.1,170.2 L153.8,170.5 L154.6,170.9 L155.3,171.3 L156.1,171.9 L157,172.4 L158.3,173 L159.8,173.7 L161.3,174.7Z" fill="#94222d"/>
<path d="M156.6,176 L157,176.9 L157.2,177.8 L157.1,178.7 L156.8,179.5 L156.1,180.2 L155.2,180.6 L154.3,180.9 L153.5,181.2 L152.8,181.5 L152.1,181.8 L151.5,182 L150.8,182.1 L150.2,182.1 L149.5,182 L148.9,181.8 L148.3,181.6 L147.8,181.5 L147.2,181.3 L146.8,181.1 L146.3,180.8 L145.9,180.6 L145.5,180.2 L145.1,179.9 L144.8,179.5 L144.5,179.1 L144.2,178.7 L144,178.3 L143.8,177.9 L143.7,177.4 L143.5,176.9 L143.5,176.5 L143.4,176 L143.5,175.5 L143.6,175.1 L143.7,174.6 L143.9,174.2 L144.1,173.8 L144.3,173.4 L144.6,173 L145,172.7 L145.3,172.4 L145.7,172.1 L146.1,171.9 L146.5,171.7 L147,171.6 L147.4,171.5 L147.9,171.4 L148.3,171.4 L148.8,171.4 L149.2,171.4 L149.7,171.4 L150.2,171.5 L150.6,171.6 L151.1,171.8 L151.6,172 L152.1,172.2 L152.5,172.5 L152.9,172.9 L153.4,173.3 L153.9,173.7 L154.5,174.1 L155.3,174.6 L156.1,175.2Z" fill="#82202c"/>
<path d="M151,176 L151,176.3 L151,176.5 L150.9,176.8 L150.8,177 L150.6,177.2 L150.4,177.4 L150.1,177.5 L149.9,177.6 L149.7,177.7 L149.5,177.8 L149.3,177.9 L149.1,178 L148.9,178 L148.7,178 L148.5,178 L148.3,177.9 L148.1,177.9 L147.9,177.9 L147.7,177.8 L147.6,177.8 L147.4,177.7 L147.2,177.6 L147.1,177.5 L146.9,177.4 L146.8,177.2 L146.7,177.1 L146.6,176.9 L146.5,176.7 L146.5,176.6 L146.4,176.4 L146.4,176.2 L146.4,176 L146.4,175.8 L146.4,175.6 L146.5,175.4 L146.5,175.3 L146.6,175.1 L146.7,174.9 L146.8,174.8 L146.9,174.6 L147.1,174.5 L147.2,174.4 L147.4,174.3 L147.6,174.2 L147.7,174.2 L147.9,174.1 L148.1,174.1 L148.3,174.1 L148.5,174.1 L148.7,174.1 L148.9,174.2 L149,174.2 L149.2,174.3 L149.4,174.3 L149.6,174.4 L149.8,174.5 L149.9,174.7 L150,174.8 L150.2,175 L150.3,175.2 L150.5,175.3 L150.7,175.5 L150.9,175.7Z" fill="#6e1c2a"/>
</g></g>
<path d="M200.9,282.7 L211.8,286.1 L210.7,293.6 L207.8,300.4 L210.7,307.3 L213,315.3 L215.8,319.9 L220.4,323.4 L223.3,325.6 L222.1,335.4 L212.4,329.1 L209.5,325.6 L207.2,321.6 L203.8,317 L200.4,313.6 L200,309.6 L201.5,303.9 L202.3,295.8 L201.5,287.8Z" fill="#fff" clip-path="url(#landclip)"/>
<path d="M183.8,328.5 L188.3,327 L199.2,331.6 L192.9,336.2 L188.3,334.8Z" fill="#fff" clip-path="url(#landclip)"/>
<path d="M25,18 L422.4,18 L422.4,18 L426.8,23.2 L427.7,31.9 L423.3,42.4 L422.4,52.8 L418.1,65 L414.6,73.7 L411.1,82.4 L404.2,91.1 L395.5,99.8 L385.9,106.7 L378.1,105 L371.1,109.4 L367.7,115.9 L366.6,120.4 L362.1,123.2 L357.6,126 L355.9,129.4 L357.6,133.9 L359.2,137.3 L362.1,142.9 L364.3,148.5 L364.9,154.2 L363.2,158.7 L359.8,160.9 L355.3,162.1 L350.8,163.7 L348.5,163.2 L349.1,157.6 L351.4,153 L350.8,147.4 L349.7,142.9 L346.3,141.2 L342.9,140.7 L341.8,138.4 L343.5,135 L342.9,130.5 L339.5,128.8 L336.2,128.3 L331.7,129.4 L327.2,131.7 L323.8,134.5 L322.7,131.7 L324.9,127.2 L327.2,122.7 L327.7,119.3 L324.9,119.8 L320.4,123.2 L315.9,127.2 L311.4,130.5 L305.8,132.8 L304.6,137.3 L306.9,140.1 L310.3,142.9 L312.5,145.2 L317,142.9 L322.7,141.8 L327.2,144 L329.4,145.7 L327,147.9 L321.9,149.9 L317.8,150.9 L314.7,154 L313.2,158.1 L314.7,162.2 L317.8,167.3 L320.9,172.4 L322.9,177.6 L323.9,181.6 L322.9,185.7 L318.8,187.8 L323.9,189.8 L327,188.8 L325,191.9 L320.9,195 L321.9,198 L322.9,202.1 L321.9,206.2 L319.8,210 L316.5,211.9 L312.5,217.3 L308.5,222.6 L304.5,225.9 L300.5,230.6 L296.5,233.2 L291.2,235.2 L285.9,235.9 L280.6,237.2 L275.2,238.5 L269.9,239.9 L265.9,241.2 L264.6,245.2 L263.9,246.5 L262.6,242.5 L260.6,240.5 L255.3,240.5 L250,241.9 L246,244.5 L242.6,249.2 L240.6,254.5 L241.3,258.5 L244.6,262.5 L248.6,267.8 L254,273.1 L257.3,278.5 L258.6,285.1 L258.8,290.1 L257.1,295.8 L252.5,299.3 L247.9,302.7 L244.5,306.2 L239.9,309.6 L236.5,310.7 L235.9,307.9 L238.8,303.9 L235.3,301.6 L231.9,300.4 L229.6,298.1 L227.3,295.8 L225,293.6 L222.7,292.4 L220.4,289 L215.8,286.7 L213.6,285.5 L210.1,286.7 L209,291.3 L207.8,295.8 L205.5,300.4 L204.4,303.9 L207.8,307.3 L210.1,310.7 L211.3,315.3 L214.7,319.9 L219.3,323.4 L222.1,325.6 L225,330.2 L228.5,336 L230.7,341.7 L233.6,347.4 L236.5,352 L234.2,354.3 L229.6,353.2 L225,347.4 L220.4,341.7 L217,337.1 L213.6,332.5 L211.3,326.8 L209,322.2 L205.5,317.6 L202.1,314.2 L201.5,309.6 L202.7,305 L203.2,299.3 L203.8,293.6 L203.2,287.8 L200.2,280 L199.1,275.8 L198.5,271.3 L196.9,268.5 L192.9,269.1 L187.3,270.8 L183.3,271.9 L181.7,269.1 L181.1,263.4 L178.8,256.7 L176,251.1 L172.7,245.4 L169.3,242.1 L165.9,237.6 L164.2,234.7 L161.4,235.3 L156.9,237.6 L152.4,238.1 L149,236.4 L145.6,237.6 L142.3,240.4 L140,243.2 L138.1,245.4 L132.9,250.6 L125.9,257.6 L119,266.3 L112,269.8 L106.8,273.3 L105.9,282 L104.2,292.4 L103.3,302.8 L99.8,308.1 L95.5,312.4 L91.1,314.2 L86.8,308.1 L82.4,295.9 L77.2,283.7 L72.9,275 L68.5,262.8 L66.8,254.1 L67.5,250 L67,244.2 L68,240.1 L67.5,237 L64.4,238 L62.9,241.6 L58.8,243.7 L54.7,244.2 L50.6,241.1 L49.1,238 L49.6,235 L52.1,233.4 L49.6,234.1 L46.5,231.9 L43.4,229.8 L41.4,227.8 L38.3,223.7 L35.2,221.6 L32.7,218.1 L25,219.6Z M106.8,306.3 L111.1,308.9 L114.6,315.9 L115.5,322 L112,325.5 L106.8,325.5 L104.2,320.2 L103.3,313.3 L104.2,308.1Z M255.9,255.2 L257.9,251.9 L261.9,249.9 L265.9,250.5 L267.9,253.2 L266.6,256.5 L262.6,258.5 L258.6,258.5Z M321.8,219.9 L324.5,219.3 L325.8,222.6 L325.1,227.9 L323.1,233.2 L320.5,237.2 L317.8,235.9 L316.5,231.2 L317.8,225.9 L319.8,221.9Z M318.8,259.2 L323.4,257.5 L328,258.6 L328.5,262.6 L326.8,267.2 L325.7,271.8 L324.5,276.4 L325.7,279.8 L329.1,282.1 L332.5,283.2 L330.2,284.4 L325.7,283.2 L323.4,284.4 L321.1,282.1 L319.9,278.7 L316.5,276.4 L314.8,272.9 L316.5,269.5 L318.2,264.9 L317.6,261.5Z M319.4,286.7 L322.8,286.1 L323.9,289.6 L321.6,291.8 L319.9,290.1Z M339.4,290.7 L342.9,290.1 L345.2,294.7 L346.3,298.1 L344,298.7 L341.7,295.9 L340,293.6Z M332.5,284.4 L336,285 L337.1,287.8 L334.8,288.4 L333.1,286.7Z M326.8,295.9 L330.2,295.3 L332,298.1 L330.2,301 L327.4,300.4 L326.2,298.1Z M331.4,299.3 L333.7,300.4 L334.3,305 L332.5,307.3 L330.8,305 L330.8,301.6Z M335.4,299.3 L337.1,300.4 L336.6,305 L335.4,304.5Z M337.1,303.3 L340,303.3 L339.4,305.6 L337.1,305.6Z M341.7,298.1 L344,299.3 L344.6,303.3 L342.9,303.9 L341.7,301.6Z M336.6,316.5 L340.6,314.2 L344,311.9 L345.2,307.3 L348,309.6 L349.7,314.2 L349.7,318.8 L347.4,321.1 L345.2,323.4 L344.6,326.8 L342.9,324.5 L339.4,322.2 L337.1,319.9Z M326.8,318.8 L329.1,315.3 L332.5,313.1 L336,312.5 L337.7,315.9 L333.7,317.1 L330.2,318.8 L328,320.5Z M300.4,312.5 L303.9,308.5 L308.5,303.9 L312.5,300.4 L314.2,301 L310.8,305 L306.2,309.6 L302.2,313.6Z M257.5,353.2 L260.3,346.3 L263.8,348.6 L269.5,347.4 L272.9,341.7 L279.8,338.3 L286.7,333.7 L292.4,329.1 L295.9,324.5 L299.3,321.1 L301.6,323.4 L305,326.8 L311.9,329.1 L309.6,331.4 L305,333.7 L303.9,337.1 L306.2,341.7 L305,345.2 L307.3,349.7 L309.6,352 L306.2,353.2 L303.9,357.8 L302.7,363.5 L257.5,363.5Z M184.9,329.1 L188.3,327.9 L198.7,331.4 L204.4,337.1 L210.1,342.8 L215.8,347.4 L221.6,350.9 L227.3,354.3 L229.6,356.6 L227.3,360 L223.9,362.9 L207.8,362.9 L204.4,356.6 L199.8,349.7 L195.2,342.8 L189.5,334.8Z M315.9,363.5 L316.5,355.5 L318.8,352 L324.5,350.9 L330.2,352 L336,350.9 L340.6,348.6 L342.3,349.7 L340.6,353.2 L334.8,355.5 L329.1,354.9 L323.4,353.7 L318.8,355.5 L317.9,363.5Z M355.5,363.5 L354.9,353.2 L357.2,348.6 L360.1,345.2 L362.9,344.6 L362.9,363.5Z M432,23.2 L435.5,19.4 L438.1,26.7 L439.8,38.9 L442.4,51.1 L445.1,60.6 L440.7,58.4 L437.6,61.5 L435.8,70.2 L439.8,78 L439,83.3 L434.6,79.8 L431.1,82.7 L432,71.9 L431.1,61.5 L430.3,44.1 L431.1,31.9Z M431.1,88.5 L435.5,92.8 L441.6,98 L449.4,99.8 L451.1,103.3 L444.2,106.7 L439,113.7 L432,110.2 L426.8,112.8 L425.4,118.9 L421.6,113.4 L421.6,108.5 L426.8,103.3 L429.4,94.6Z M423.3,120.7 L430.3,124.1 L431.1,131.1 L428.5,139.8 L426.8,146.8 L421.6,155.5 L422.4,159.3 L414.6,157.2 L411.1,160.7 L402.4,162.4 L397.2,167.6 L395.1,162.8 L386.8,164.5 L374.6,166.3 L373.4,164.2 L383.3,157.2 L395.5,155.5 L400.7,152 L405.9,145.9 L414.6,141.5 L419.8,136.3 L419.8,125.9Z M381.5,169.7 L390.2,165.9 L394.1,167.6 L388.5,172.2 L382.4,173.9Z M367.6,171.1 L373.7,168.5 L378.9,172.9 L376.3,179.8 L372.8,187.1 L369.4,183.3 L366.8,176.3Z M348.2,170.5 L350.2,169.4 L352.3,170.5 L350.2,171.6Z M505.1,18 L511.7,18 L511.3,42.4 L508.9,37.5 L506.8,28.4Z M462.6,89.9 L465.8,87.1 L467.5,87.4 L464.4,90.2Z M457.4,93.9 L460.5,91.1 L462.3,91.4 L459.1,94.2Z M470.5,85.5 L473.6,82.7 L475.3,83.1 L472.2,85.9Z M481.8,78.2 L484.9,75.4 L486.6,75.8 L483.5,78.6Z M501.3,50.7 L504.4,47.9 L506.1,48.3 L503,51.1Z M451.3,97.7 L454.4,94.9 L456.2,95.3 L453.1,98Z M501.2,50.5 L505.2,47.2 L506.5,47.8 L502.8,51Z M470.6,86.8 L474.6,83.5 L475.9,84 L472.1,87.2Z M462.5,90.8 L466.5,87.5 L467.8,88 L464,91.2Z M481.2,78.6 L485.2,75.4 L486.5,75.9 L482.8,79.1Z M172,288.9 L173.8,289.8 L172.9,297.6 L171.2,296.8Z M169.8,299.4 L171.5,299.7 L171.2,302.8 L169.4,302Z" fill="none" stroke="#5350a6" stroke-width="0.55" stroke-linejoin="round"/>
<path d="M279.3,303.8 a0.7,0.6 0 1 0 1.5,0 a0.7,0.6 0 1 0 -1.5,0 M270.1,313.4 a0.6,0.5 0 1 0 1.2,0 a0.6,0.5 0 1 0 -1.2,0 M269.7,312.7 a0.4,0.3 0 1 0 0.8,0 a0.4,0.3 0 1 0 -0.8,0 M283.6,301.7 a0.4,0.4 0 1 0 0.9,0 a0.4,0.4 0 1 0 -0.9,0 M283.2,320.7 a0.5,0.4 0 1 0 0.9,0 a0.5,0.4 0 1 0 -0.9,0 M275.4,315.7 a0.9,0.7 0 1 0 1.7,0 a0.9,0.7 0 1 0 -1.7,0 M288.5,309.9 a0.9,0.7 0 1 0 1.8,0 a0.9,0.7 0 1 0 -1.8,0 M269.2,321.5 a0.5,0.4 0 1 0 1.1,0 a0.5,0.4 0 1 0 -1.1,0 M272.8,302.9 a0.6,0.4 0 1 0 1.1,0 a0.6,0.4 0 1 0 -1.1,0 M297.5,304.5 a0.7,0.6 0 1 0 1.4,0 a0.7,0.6 0 1 0 -1.4,0 M291.0,309.3 a0.7,0.5 0 1 0 1.3,0 a0.7,0.5 0 1 0 -1.3,0 M269.8,301.5 a0.5,0.4 0 1 0 1.0,0 a0.5,0.4 0 1 0 -1.0,0 M292.6,310.7 a0.6,0.4 0 1 0 1.1,0 a0.6,0.4 0 1 0 -1.1,0 M289.1,311.3 a0.5,0.4 0 1 0 1.1,0 a0.5,0.4 0 1 0 -1.1,0 M296.9,317.5 a0.5,0.4 0 1 0 1.0,0 a0.5,0.4 0 1 0 -1.0,0 M288.4,313.1 a0.8,0.7 0 1 0 1.7,0 a0.8,0.7 0 1 0 -1.7,0 M294.1,307.2 a0.9,0.7 0 1 0 1.8,0 a0.9,0.7 0 1 0 -1.8,0 M271.6,310.5 a0.8,0.6 0 1 0 1.6,0 a0.8,0.6 0 1 0 -1.6,0 M273.2,312.2 a0.4,0.3 0 1 0 0.8,0 a0.4,0.3 0 1 0 -0.8,0 M292.0,319.1 a0.7,0.5 0 1 0 1.4,0 a0.7,0.5 0 1 0 -1.4,0 M299.6,307.8 a0.7,0.6 0 1 0 1.5,0 a0.7,0.6 0 1 0 -1.5,0 M289.4,314.5 a0.6,0.5 0 1 0 1.3,0 a0.6,0.5 0 1 0 -1.3,0 M298.4,323.6 a0.6,0.5 0 1 0 1.3,0 a0.6,0.5 0 1 0 -1.3,0 M291.8,301.5 a0.8,0.6 0 1 0 1.5,0 a0.8,0.6 0 1 0 -1.5,0 M291.1,324.8 a0.8,0.6 0 1 0 1.6,0 a0.8,0.6 0 1 0 -1.6,0 M277.8,309.6 a0.7,0.6 0 1 0 1.5,0 a0.7,0.6 0 1 0 -1.5,0 M268.4,311.5 a0.5,0.4 0 1 0 1.0,0 a0.5,0.4 0 1 0 -1.0,0 M271.5,301.5 a0.8,0.6 0 1 0 1.6,0 a0.8,0.6 0 1 0 -1.6,0 M272.2,306.2 a0.6,0.5 0 1 0 1.2,0 a0.6,0.5 0 1 0 -1.2,0 M299.6,302.0 a0.6,0.5 0 1 0 1.2,0 a0.6,0.5 0 1 0 -1.2,0 M287.5,322.1 a0.8,0.6 0 1 0 1.6,0 a0.8,0.6 0 1 0 -1.6,0 M299.4,307.0 a0.6,0.5 0 1 0 1.2,0 a0.6,0.5 0 1 0 -1.2,0 M280.4,322.1 a0.9,0.7 0 1 0 1.8,0 a0.9,0.7 0 1 0 -1.8,0 M273.1,304.4 a0.5,0.4 0 1 0 1.0,0 a0.5,0.4 0 1 0 -1.0,0 M275.9,312.1 a0.7,0.6 0 1 0 1.4,0 a0.7,0.6 0 1 0 -1.4,0 M277.1,300.1 a0.6,0.5 0 1 0 1.2,0 a0.6,0.5 0 1 0 -1.2,0 M280.8,314.2 a0.9,0.7 0 1 0 1.8,0 a0.9,0.7 0 1 0 -1.8,0 M292.8,312.9 a0.7,0.6 0 1 0 1.4,0 a0.7,0.6 0 1 0 -1.4,0 M292.2,301.3 a0.8,0.7 0 1 0 1.7,0 a0.8,0.7 0 1 0 -1.7,0 M296.1,321.9 a0.8,0.6 0 1 0 1.6,0 a0.8,0.6 0 1 0 -1.6,0 M274.3,266.0 a0.5,0.4 0 1 0 0.9,0 a0.5,0.4 0 1 0 -0.9,0 M277.2,262.6 a0.4,0.3 0 1 0 0.9,0 a0.4,0.3 0 1 0 -0.9,0 M271.9,263.6 a0.6,0.5 0 1 0 1.1,0 a0.6,0.5 0 1 0 -1.1,0 M270.2,262.0 a0.5,0.4 0 1 0 1.0,0 a0.5,0.4 0 1 0 -1.0,0 M270.8,265.6 a0.4,0.3 0 1 0 0.8,0 a0.4,0.3 0 1 0 -0.8,0 M280.0,268.1 a0.5,0.4 0 1 0 0.9,0 a0.5,0.4 0 1 0 -0.9,0 M272.4,265.5 a0.6,0.5 0 1 0 1.2,0 a0.6,0.5 0 1 0 -1.2,0 M270.6,270.5 a0.9,0.7 0 1 0 1.8,0 a0.9,0.7 0 1 0 -1.8,0 M275.1,266.8 a0.4,0.4 0 1 0 0.9,0 a0.4,0.4 0 1 0 -0.9,0 M270.7,265.4 a0.5,0.4 0 1 0 1.1,0 a0.5,0.4 0 1 0 -1.1,0 M340.0,304.8 a0.4,0.3 0 1 0 0.8,0 a0.4,0.3 0 1 0 -0.8,0 M343.2,315.8 a0.5,0.4 0 1 0 0.9,0 a0.5,0.4 0 1 0 -0.9,0 M332.0,300.8 a0.7,0.5 0 1 0 1.3,0 a0.7,0.5 0 1 0 -1.3,0 M343.7,325.9 a0.7,0.6 0 1 0 1.5,0 a0.7,0.6 0 1 0 -1.5,0 M324.6,311.0 a0.5,0.4 0 1 0 1.0,0 a0.5,0.4 0 1 0 -1.0,0 M338.1,316.0 a0.8,0.6 0 1 0 1.6,0 a0.8,0.6 0 1 0 -1.6,0 M326.1,306.7 a0.8,0.6 0 1 0 1.6,0 a0.8,0.6 0 1 0 -1.6,0 M343.8,325.6 a0.8,0.6 0 1 0 1.6,0 a0.8,0.6 0 1 0 -1.6,0 M339.6,322.2 a0.5,0.4 0 1 0 1.0,0 a0.5,0.4 0 1 0 -1.0,0 M331.6,310.7 a0.4,0.3 0 1 0 0.8,0 a0.4,0.3 0 1 0 -0.8,0 M318.2,308.4 a0.5,0.4 0 1 0 1.1,0 a0.5,0.4 0 1 0 -1.1,0 M336.1,328.7 a0.6,0.5 0 1 0 1.2,0 a0.6,0.5 0 1 0 -1.2,0 M342.4,329.6 a0.9,0.7 0 1 0 1.8,0 a0.9,0.7 0 1 0 -1.8,0 M327.3,306.6 a0.5,0.4 0 1 0 1.0,0 a0.5,0.4 0 1 0 -1.0,0 M321.2,343.7 a0.7,0.6 0 1 0 1.4,0 a0.7,0.6 0 1 0 -1.4,0 M345.9,355.1 a0.6,0.5 0 1 0 1.3,0 a0.6,0.5 0 1 0 -1.3,0 M337.4,354.4 a0.4,0.4 0 1 0 0.9,0 a0.4,0.4 0 1 0 -0.9,0 M337.3,356.4 a0.8,0.6 0 1 0 1.6,0 a0.8,0.6 0 1 0 -1.6,0 M340.8,348.6 a0.5,0.4 0 1 0 1.0,0 a0.5,0.4 0 1 0 -1.0,0 M341.8,346.0 a0.8,0.6 0 1 0 1.6,0 a0.8,0.6 0 1 0 -1.6,0 M348.4,347.1 a0.6,0.5 0 1 0 1.2,0 a0.6,0.5 0 1 0 -1.2,0 M347.7,353.0 a0.5,0.4 0 1 0 1.0,0 a0.5,0.4 0 1 0 -1.0,0 M172.2,296.0 a0.9,0.7 0 1 0 1.7,0 a0.9,0.7 0 1 0 -1.7,0 M177.6,295.8 a0.8,0.7 0 1 0 1.6,0 a0.8,0.7 0 1 0 -1.6,0 M179.3,316.3 a0.6,0.5 0 1 0 1.2,0 a0.6,0.5 0 1 0 -1.2,0 M176.0,295.2 a0.4,0.3 0 1 0 0.8,0 a0.4,0.3 0 1 0 -0.8,0 M179.1,316.0 a0.7,0.5 0 1 0 1.3,0 a0.7,0.5 0 1 0 -1.3,0 M178.6,307.4 a0.8,0.7 0 1 0 1.7,0 a0.8,0.7 0 1 0 -1.7,0 M211.0,339.2 a0.5,0.4 0 1 0 1.1,0 a0.5,0.4 0 1 0 -1.1,0 M200.2,339.8 a0.7,0.6 0 1 0 1.4,0 a0.7,0.6 0 1 0 -1.4,0 M199.7,343.4 a0.5,0.4 0 1 0 0.9,0 a0.5,0.4 0 1 0 -0.9,0 M212.6,342.1 a0.6,0.5 0 1 0 1.3,0 a0.6,0.5 0 1 0 -1.3,0 M206.1,353.1 a0.6,0.5 0 1 0 1.2,0 a0.6,0.5 0 1 0 -1.2,0 M212.7,345.0 a0.7,0.5 0 1 0 1.3,0 a0.7,0.5 0 1 0 -1.3,0 M337.2,195.3 a0.6,0.5 0 1 0 1.2,0 a0.6,0.5 0 1 0 -1.2,0 M331.9,195.1 a0.8,0.6 0 1 0 1.6,0 a0.8,0.6 0 1 0 -1.6,0 M331.8,203.0 a0.8,0.6 0 1 0 1.5,0 a0.8,0.6 0 1 0 -1.5,0 M337.7,200.5 a0.7,0.5 0 1 0 1.3,0 a0.7,0.5 0 1 0 -1.3,0 M337.9,208.3 a0.5,0.4 0 1 0 0.9,0 a0.5,0.4 0 1 0 -0.9,0 M378.2,142.5 a0.5,0.4 0 1 0 1.1,0 a0.5,0.4 0 1 0 -1.1,0 M380.6,145.1 a0.7,0.5 0 1 0 1.4,0 a0.7,0.5 0 1 0 -1.4,0 M380.5,149.1 a0.6,0.5 0 1 0 1.2,0 a0.6,0.5 0 1 0 -1.2,0 M378.7,145.1 a0.7,0.5 0 1 0 1.3,0 a0.7,0.5 0 1 0 -1.3,0" fill="none" stroke="#5350a6" stroke-width="0.5"/>
<ellipse cx="283.5" cy="271.5" rx="2.4" ry="1.5" fill="none" stroke="#5350a6" stroke-width="0.5" transform="rotate(-25 283.5 271.5)"/>
<path d="M69.4,19.7 L72,22.4 L77.2,19.7 L89.4,18.9 L94.6,25 L99.8,33.7 L105.9,45 L110.3,41.5 L115.5,45.8 L124.2,44.1 L131.1,51.9 L136.4,55.4 L140.7,54.5 L143.3,58.9 M143.3,58.9 L150.3,57.2 L157.2,51.9 L164.2,47.6 L169.4,45.8 L178.1,47.6 L181.6,51.1 L188.6,51.9 L195,53.7 L200.2,50.2 L199.4,43.2 L205.4,34.5 L212.4,37.1 L221.1,40.6 L223.7,47.6 L232.4,51.1 L238.5,49.3 L247.2,51.1 L252.4,52.8 L255,57.2 L264.6,58.9 L276.8,55.4 L285.5,50.2 L292.4,51.1 L290,52.8 L297.2,53.3 M143.3,58.9 L138.1,63.2 L134.6,68.5 L133.8,73.7 L120.7,75.4 L118.1,85 L117.6,85 L118.1,89.1 L115.1,89.1 L108.9,90.1 L105.9,91.1 L106.9,95.2 L108.9,99.3 L110,103.4 L107.9,107.5 L105.9,109.6 L102.8,112.1 L96.6,114.7 L90.5,117.8 L86.4,120.8 L82.3,123.4 L77.2,124.4 L73.1,127 L70,131.1 L70,134.1 L73.1,136.2 L77.2,137.2 L78.7,141.3 L78.2,145.4 L82.3,148.5 L85.4,152.6 L88.5,155.6 L92.6,157.7 L95.6,157.2 L96.6,160.7 L99.7,164.3 L100.2,168.9 L101.3,174 L98.7,176.1 L97.7,179.2 L99.7,182.2 L100.7,185 L103.3,188 L107.1,188.3 L121.4,194.4 L133.7,201.6 L141.9,203.8 L140,202.7 L146.8,203.2 L150.7,203.8 L151.8,206 L154.6,203.2 L159.1,202.7 L164.8,203.8 L167.6,206.6 L168.7,209.4 L173.8,209.4 L179.4,207.7 L185,204.3 L189.5,202.7 L194,203.8 L196.3,202.7 L198.5,201 L201.4,203.8 L203,208.3 L203.6,213.9 L201.4,218.4 L198.5,221.8 L198,226.3 L201.9,228.5 L205.3,231.9 L207.6,236.4 L210.9,239.8 L214.9,241.5 L218.8,240.4 L219.4,237 L223.3,234.7 L228.9,233.6 L233.4,234.2 L238,231.4 L241.3,233 L244.7,236.4 L250,237.6 L251,239.5 L245.5,245.4 M25,100.9 L29.1,102.9 L31.7,106.5 L32.2,111.6 L36.3,114.7 L40.4,117.8 L43.4,120.3 L43.9,121.8 L46.5,118.8 L50.6,115.7 L54.7,113.1 L57.8,109.6 L60.8,107.5 L65.9,107 L70,106.5 L74.1,104.4 L78.2,105.5 L83.3,107 L88.5,106 L94.6,106.5 L100.7,107 L105.9,109.6 M57.8,109.6 L55.7,113.1 L58.8,115.7 L61.8,116.7 L65.9,119.8 L69,120.8 L67.5,122.9 L63.9,124.4 L59.8,123.9 L55.7,125.4 L51.6,125.9 L49.6,128 L52.6,130 L58.8,130 L64.9,130.5 L70,131.1 M49.6,128 L46.5,125.9 L48.5,122.9 L53.7,121.3 L55.7,120.3 M46.5,125.9 L42.4,129 L39.3,131.1 L38.8,134.1 L41.4,137.2 L43.4,140.3 L42.4,143.3 L41.4,146.4 L45.5,145.4 L49.6,143.3 L53.7,140.3 L56.7,138.2 L59.8,138.2 L60.8,143.3 L60.3,148.5 L64.9,146.4 L70,144.9 L75.2,144.4 L78.2,145.4 M25,137.2 L30.1,138.2 L34.2,140.8 L35.2,144.4 L38.3,146.4 L41.4,146.4 M25,145.4 L29.1,144.9 L35.2,144.4 M60.3,148.5 L58.8,152.6 L58.8,153.1 L59.8,156.1 L58.8,160.2 L57.8,164.3 L54.7,166.4 L51.6,167.4 L52.6,170.5 L49.6,173.5 L48.5,177.6 L45.5,180.7 L40.4,181.7 L35.2,183.8 L33.2,186.8 L32.2,192 L28.1,194 L25,194.5 M92.6,157.7 L89.5,160.7 L84.4,161.8 L78.2,161.8 L73.1,163.8 L72.6,167.9 L72.6,165.4 L74.1,169.4 L73.6,172.5 L76.2,175.6 L80.3,177.6 L77.2,181.7 L73.1,187.9 L69,194 L65.9,198.1 L62.9,202.2 L59.8,204.2 L55.7,203.2 L52.6,206.3 L49.6,209.9 L52.1,212.4 L53.7,216.5 L56.7,219.6 L58.3,223.7 L54.7,224.7 L47.5,226.3 L43.4,228.8 M143.3,58.9 L148.5,64.1 L155.5,68.5 L160.7,73.7 L163.3,80.6 L162.5,87.6 L169.4,91.1 L178.1,93.7 L185.1,98 L188.6,105 L195,107.6 L212.4,108.5 L226.3,112 L235,115.4 L243.7,112.8 L254.2,110.2 L264.6,106.7 L271.6,99.8 L272.4,93.7 L278.5,90.2 L287.2,88.5 L290,88.6 L293.1,87.6 L296.1,84.5 L300.2,81.4 L305.4,79.4 L310.5,78.9 L314.6,77.8 L313.5,75.3 L310.5,71.2 L307.4,68.1 L303.3,68.1 L300.2,70.2 L294.6,70.2 L292,67.6 L293.1,64 L295.1,58.9 L297.2,53.3 M297.2,53.3 L303.3,55.8 L307.4,52.8 L311.5,50.7 L311,48.1 L313.5,44.6 L316.6,38.4 L319.7,32.3 L316.1,29.7 L318.1,26.7 L322.8,23.6 L328.9,22 L334,21.5 L338.1,23.6 L344.2,25.6 L347.3,31.3 L350.4,37.4 L352.4,43.5 L355,47.6 L355.5,52.8 L360.6,55.8 L365.7,58.4 L369.8,62 L371.9,66.1 L373.9,69.1 L378,70.7 L382.1,68.6 L387.2,66.1 L390,65.5 L394.6,65 L392.9,70.2 L388.5,78.9 L386.8,85.9 L378.9,91.1 L374.6,96.3 L374.6,103.3 L371.1,108.5 M371.1,110.8 L368.8,108 L367.7,106.9 L364.3,109.7 L362.1,112.5 L358.7,114.2 L356.4,115.3 L353,114.2 L349.7,118.1 L345.2,122.7 L341.8,124.9 L339.5,128.3 M350.8,142.4 L353,139.5 L356.4,138.4 L359.2,137.3 M107.1,188.3 L106.1,192.4 L109.1,200.5 L121.4,207.7 L133.7,211.8 L140,212.8 L144.5,212.2 L148.4,211.1 L149.6,208.3 L150.7,203.8 M151.8,206 L151.8,208.3 L154.6,210 L162.5,210 L168.7,209.4 M148.4,211.1 L150.1,217.3 L148.4,220.7 L150.1,225.2 L151.8,229.7 L151.8,238.1 M150.1,213.3 L155.8,213.9 L157.5,218.4 L163.6,219.5 L170.4,221.2 L168.1,225.2 L166.5,230.8 L168.1,232.5 L170.4,228.5 L172.1,233 L171.5,238.7 L172.7,242.1 M194,203.8 L195.2,208.8 L189.5,208.3 L185,212.2 L182.8,218.4 L180.5,224 L177.7,226.3 L176,230.8 L173.8,236.4 L172.1,240.9 M214.9,241.5 L212.1,246.6 L206.4,248.8 L199.7,251.1 L197.4,255.6 L198.5,260.1 L201.4,264.6 L203.6,270.2 L201.9,275.8 L200.8,280 L202.1,277.5 L203.8,283.2 L207.8,289 L209,293.6 L205.5,298.1 L203.8,303.9 M212.1,246.6 L214.3,251.1 L217.7,253.9 L216.6,260.1 L216.6,263.4 L221.1,260.1 L225.6,259.5 L230.1,260.1 L233.4,263.4 L236.3,269.1 L239.1,274.7 L239.6,280 L240.2,278.5 L245.5,280.2 L248.9,279.4 M223.3,234.7 L224.4,238.7 L228.9,243.2 L234.6,246.6 L235.7,251.1 L232.3,253.3 L235.7,257.8 L240.2,262.3 L244.7,268 L248.1,272.5 L249.8,277 L250,278.5 L248.9,279.5 M240.2,278.5 L238.5,282.8 L228.1,282 L224.6,285.4 L223.7,290.7 M248.9,279.4 L250.7,287.2 L247.2,292.4 L242,294.1 L241.1,299.4 L235,299.4 M210.7,323.4 L213.6,326.2 L217,327 L220.4,325.1 M260.3,346.3 L262.6,349.7 L266,352 L271.8,351.5 L275.2,348.6 L279.8,349.7 L284.4,350.3 L287.8,348.6 L290.1,344 L292.4,339.4 L294.7,334.8 L299.3,333.7 L303.9,335.4 M285.5,333.7 L287.8,335.4 L290.7,331.4" fill="none" stroke="#111" stroke-width="1.2" stroke-linejoin="round"/>
<path d="M101.6,162.4 L108.5,157.2 L119,156.3 L129.4,155.5 L138.1,152 L146.8,151.1 L155.5,152 L160.7,152.9 M160.7,152.9 L164.2,146.8 L159.9,139.8 L164.2,134.6 L172.9,132 L185.1,132.8 L195,138.1 M172.9,132 L172,125.9 L176.4,118.9 L185.1,113.7 L190.3,108.5 M155.5,152 L156.4,162.4 L162.5,171.1 L172.9,174.6 L185.1,176.3 L195,179.8 M322.8,27.7 L322.2,30.7 L324.8,32.3 L328.9,33.3 L329.9,37.4 L332,41 L337.1,41.5 L342.2,39.4 L345.3,41.5 L346.3,45.6 L344.2,50.7 L342.7,55.8 L341.2,59.9 L339.1,65 L335,68.1 L330.9,71.2 L328.9,73.7 L330.4,77.3 L332,80.4 L330.9,83.5 L327.9,86 L325.3,84 L326.3,89.6 L326.3,94.7 L327.9,97.8 L332,95.2 L333,99.8 L335,103.4 L330.9,106 L324.8,108.5 L319.7,110.1 L315.6,113.1 L312.5,111.1 L310.5,115.2 L311,120 M332,80.4 L336.1,82.4 L338.1,86.5 L343.2,88.1 L348.3,89.1 L352.4,90.6 L355.5,95.7 L359.6,98.8 L362.7,101.9 L367.8,101.4 L372.9,102.4 M335,103.4 L340.2,105 L342.2,110.1 L344.2,115.2 L346.3,120 M315.6,113.1 L310.5,111.1 L305.4,110.1 L302.3,109 L296.1,111.6 L290,114.2 M305.4,110.1 L306.4,115.2 L305.4,120 M190,111.3 L196.1,110.2 L198.7,114.3 L199.7,119.4 L203.3,122 L207.9,120.5 L211,121.5 L210.5,125.6 L208.9,128.1 L212,130.7 L216.1,132.8 L220.7,133.8 L223.8,131.7 L228.9,130.7 L232,132.8 L230.4,135.8 L228.9,138.9 L230.9,143 L234,145 L238.1,144 L241.2,139.9 L240.2,135.8 L243.2,131.7 L246.3,130.7 L246.8,135.8 L248.3,139.9 L251.4,142 L255.5,142 L258.1,138.9 L259.6,134.8 L263.7,131.7 L268.8,130.2 L272.9,129.7 L277,126.6 L282.1,124.6 L286.2,122 M290,112.3 L285.2,114.3 L284.2,118.4 L286.2,122 L285.7,126.6 L284.2,130.7 L285.2,134.8 L282.1,138.9 L283.1,143 L282.1,147.1 L282.6,151.2 L286.2,153.2 M190,135.8 L194.1,133.8 L198.2,132.8 L203.3,133.8 L207.9,136.3 L212.5,138.9 L216.6,140.9 L221.7,143.5 L225.8,146.1 L228.9,149.1 L225.8,153.2 L222.8,157.3 L219.7,161.4 L215.6,165.5 L217.6,169.6 L215.6,173.7 L213.5,176.3 L209.4,175.7 L205.4,173.7 L202.3,169.6 L198.2,166.5 L196.7,169.6 L197.7,173.7 L195.1,177.8 L193.1,180.9 L190,179.8 M215.6,165.5 L219.7,167.6 L224.8,165.5 L228.9,167.6 L233,171.6 L237.1,173.7 L241.2,172.7 L244.2,169.6 L245.8,165.5 L244.2,161.4 L246.3,158.3 L245.3,154.2 L247.3,151.2 L244.2,148.1 L245.3,145 L248.3,144 M237.1,173.7 L241.2,174.7 L247.3,175.7 L253.5,177.8 L256.5,180.9 L255.5,185 L257.6,187 L261.6,186 L263.7,182.9 L261.6,178.8 L263.7,175.7 L261.6,171.6 L265.7,170.6 L268.8,171.6 M248.3,144 L252.4,146.1 L255.5,149.1 L256.5,153.2 L255,157.3 L251.4,159.4 L247.3,160.4 M268.8,130.2 L266.8,134.8 L265.7,139.9 L266.3,145 L264.7,149.1 L265.7,154.2 L265.2,159.4 L267.8,162.4 M255.5,185 L252.4,188 L250.4,192.1 L247.3,194.2 L244.2,192.1 L240.2,194.2 L238.1,197.2 M257.6,187 L256.5,191.1 L259.6,194.2 L263.7,192.1 L269.8,191.1 L275,192.1 L280.1,191.1 L284.2,194.2 L290,195.2 M197.7,173.7 L201.3,177.8 L204.3,181.9 L203.3,187 L205.4,192.1 L204.8,200 M285,122.8 L283.5,119.2 L284,116.1 L287.1,113.1 L291.2,112 L295.3,113.1 L299.4,111 L301.4,110 M293.2,123.3 L295.3,120.2 L299.4,120.2 L301.4,123.3 L300.4,127.4 L297.3,129.4 L294.2,128.4 L293.2,123.3 M300.4,127.4 L302.4,130.5 L305.5,132 M287.1,150.9 L291.2,149.9 L294.2,146.8 L297.3,143.8 L300.4,141.7 L304.5,140.7 L306.5,139.7 M287.1,153 L289.1,156.1 L291.2,159.1 L294.2,161.2 L297.3,160.2 L301.4,161.2 L305.5,163.2 L308.6,162.2 L311.6,164.2 L313.7,167.3 M284,179.6 L287.1,180.6 L291.2,181.6 L293.2,184.7 L292.2,188.8 L293.2,191.9 L297.3,190.9 L301.4,191.9 L305.5,193.9 L307.6,197 L306.5,201.1 L307.6,205.2 L305.5,210 M293.2,191.9 L291.2,195 L288.1,197 L285,198 L284,202.1 L285,206.2 L284,210 M305.5,163.2 L303.5,167.3 L301.4,171.4 L303.5,175.5 L306.5,177.6 L309.6,180.6 L311.6,183.7 L310.6,187.8 L307.6,190.9 L305.5,193.9 M311.6,183.7 L315.7,185.7 L319.8,186.8 L323.9,186.3 M307.6,197 L311.6,195 L315.7,191.9 L318.8,189.8 M220,211.4 L224.1,209.3 L229.2,207.3 L233.3,204.2 L237.4,201.1 L240.5,198.1 L242.5,195 M229.2,207.3 L231.3,212.4 L233.3,218.5 L236.4,222.6 L240.5,224.7 L242,228.8 L238.4,229.8 M233.3,218.5 L238.4,219.6 L244.6,219.1 L249.7,218 L254.8,217 L257.9,213.4 L258.9,208.3 L259.9,203.2 L259.4,198.1 L260.4,195 M257.9,213.4 L263,212.9 L267.1,213.9 L270.2,217 L268.1,220.6 L271.2,222.6 L273.2,220.6 L277.3,219.6 L282.4,218.5 L285.5,218.5 L287.6,220.6 L285.5,222.6 L289.6,223.7 L294.7,222.6 L298.8,221.6 L300.9,224.7 L299.8,227.8 M282.4,218.5 L283.5,213.4 L284,208.3 L283.5,203.2 L285.5,198.1 L284.5,195 M294.7,222.6 L296.8,216.5 L298.8,211.4 L301.9,207.3 L305,204.2 L308,202.2 L307,198.1 L309,195 M271.2,222.6 L271.7,227.8 L269.1,231.8 L268.1,235.9 L265,239 L262,240 M308,202.2 L312.1,204.2 L316.2,203.2 L320,201.1 M205.4,188 L207.2,195 L214.1,203.7 L217.6,212.4" fill="none" stroke="#2e2e2e" stroke-width="0.7" stroke-dasharray="1.6,1.3"/>
<path d="M312.5,260.9 L311.3,267.8 M310.5,285.5 L309.4,292.4 M298.1,312.8 L293.3,318.6 M279.2,334.8 L272.4,339.4 M253.4,318.2 L255.2,327.4 M265.5,290.1 L262.6,297.6 M255.7,267.2 L260.9,273.5 M318.5,248.9 L322.9,243.7 M328.1,231.5 L329.9,227.7" fill="none" stroke="#222" stroke-width="1.1"/>
<path d="M118.1,111.1 L121.4,104.6 L124.7,111.1Z M137.2,104.4 L140.5,97.9 L143.8,104.4Z M155.0,101.9 L158.3,95.4 L161.6,101.9Z M145.4,111.1 L148.7,104.6 L152.0,111.1Z M156.9,110.6 L160.2,104.1 L163.5,110.6Z M137.8,118.4 L141.1,111.9 L144.4,118.4Z M153.3,120.7 L156.6,114.2 L159.9,120.7Z M87.1,135.9 L90.4,129.4 L93.7,135.9Z M77.2,157.0 L80.5,150.5 L83.8,157.0Z M78.4,183.7 L81.7,177.2 L85.0,183.7Z M144.5,179.1 L147.8,172.6 L151.1,179.1Z M160.9,184.6 L164.2,178.1 L167.5,184.6Z M165.1,181.8 L168.4,175.3 L171.7,181.8Z M148.1,197.2 L151.4,190.7 L154.7,197.2Z M161.9,196.6 L165.2,190.1 L168.5,196.6Z M165.5,200.3 L168.8,193.8 L172.1,200.3Z M177.5,194.6 L180.8,188.1 L184.1,194.6Z M193.1,187.8 L196.4,181.3 L199.7,187.8Z M192.8,128.2 L196.1,121.7 L199.4,128.2Z M204.2,134.8 L207.5,128.3 L210.8,134.8Z M223.0,144.0 L226.3,137.5 L229.6,144.0Z M191.2,152.0 L194.5,145.5 L197.8,152.0Z M228.8,156.1 L232.1,149.6 L235.4,156.1Z M230.4,162.7 L233.7,156.2 L237.0,162.7Z M233.0,171.2 L236.3,164.7 L239.6,171.2Z M223.7,183.1 L227.0,176.6 L230.3,183.1Z M212.7,188.1 L216.0,181.6 L219.3,188.1Z M221.4,191.3 L224.7,184.8 L228.0,191.3Z M232.5,190.7 L235.8,184.2 L239.1,190.7Z M214.4,198.9 L217.7,192.4 L221.0,198.9Z M227.7,199.9 L231.0,193.4 L234.3,199.9Z M240.9,196.4 L244.2,189.9 L247.5,196.4Z M245.6,199.3 L248.9,192.8 L252.2,199.3Z M241.9,214.2 L245.2,207.7 L248.5,214.2Z M220.9,223.4 L224.2,216.9 L227.5,223.4Z M330.9,117.7 L334.2,111.2 L337.5,117.7Z M340.0,104.3 L343.3,97.8 L346.6,104.3Z M293.0,129.0 L296.3,122.5 L299.6,129.0Z M293.7,129.7 L297.0,123.2 L300.3,129.7Z M273.5,142.8 L276.8,136.3 L280.1,142.8Z M284.3,141.8 L287.6,135.3 L290.9,141.8Z M299.6,148.4 L302.9,141.9 L306.2,148.4Z M313.0,150.5 L316.3,144.0 L319.6,150.5Z M294.0,154.6 L297.3,148.1 L300.6,154.6Z M302.7,156.6 L306.0,150.1 L309.3,156.6Z M284.3,159.2 L287.6,152.7 L290.9,159.2Z M279.7,162.7 L283.0,156.2 L286.3,162.7Z M273.0,164.8 L276.3,158.3 L279.6,164.8Z M286.3,166.3 L289.6,159.8 L292.9,166.3Z M253.1,166.3 L256.4,159.8 L259.7,166.3Z M267.4,167.9 L270.7,161.4 L274.0,167.9Z M279.7,168.9 L283.0,162.4 L286.3,168.9Z M306.8,166.8 L310.1,160.3 L313.4,166.8Z M279.2,172.0 L282.5,165.5 L285.8,172.0Z M277.7,172.7 L281.0,166.2 L284.3,172.7Z M269.5,174.0 L272.8,167.5 L276.1,174.0Z M275.6,174.5 L278.9,168.0 L282.2,174.5Z M296.4,171.6 L299.7,165.1 L303.0,171.6Z M282.8,177.1 L286.1,170.6 L289.4,177.1Z M287.1,179.6 L290.4,173.1 L293.7,179.6Z M297.8,181.2 L301.1,174.7 L304.4,181.2Z M314.5,178.1 L317.8,171.6 L321.1,178.1Z M309.4,181.7 L312.7,175.2 L316.0,181.7Z M310.9,182.7 L314.2,176.2 L317.5,182.7Z M308.3,183.4 L311.6,176.9 L314.9,183.4Z M254.9,186.8 L258.2,180.3 L261.5,186.8Z M270.3,187.0 L273.6,180.5 L276.9,187.0Z M282.2,188.5 L285.5,182.0 L288.8,188.5Z M299.6,188.3 L302.9,181.8 L306.2,188.3Z M289.9,200.6 L293.2,194.1 L296.5,200.6Z M315.2,203.5 L318.5,197.0 L321.8,203.5Z M267.9,204.7 L271.2,198.2 L274.5,204.7Z M274.9,204.7 L278.2,198.2 L281.5,204.7Z M258.7,215.5 L262.0,209.0 L265.3,215.5Z M261.7,220.1 L265.0,213.6 L268.3,220.1Z M307.8,217.0 L311.1,210.5 L314.4,217.0Z M301.1,224.5 L304.4,218.0 L307.7,224.5Z M267.6,227.6 L270.9,221.1 L274.2,227.6Z M260.9,229.6 L264.2,223.1 L267.5,229.6Z M256.1,231.1 L259.4,224.6 L262.7,231.1Z M279.4,232.9 L282.7,226.4 L286.0,232.9Z M275.6,236.2 L278.9,229.7 L282.2,236.2Z M250.3,238.0 L253.6,231.5 L256.9,238.0Z M261.2,255.6 L264.5,249.1 L267.8,255.6Z M56.0,235.1 L59.3,228.6 L62.6,235.1Z M95.5,260.2 L98.8,253.7 L102.1,260.2Z M145.5,235.8 L148.8,229.3 L152.1,235.8Z M103.5,320.7 L106.8,314.2 L110.1,320.7Z M218.8,335.1 L222.1,328.6 L225.4,335.1Z M219.4,338.5 L222.7,332.0 L226.0,338.5Z M220.0,341.4 L223.3,334.9 L226.6,341.4Z M222.5,345.4 L225.8,338.9 L229.1,345.4Z M229.7,354.1 L233.0,347.6 L236.3,354.1Z M417.4,147.3 L420.7,140.8 L424.0,147.3Z" fill="none" stroke="#ea2a2e" stroke-width="1.15" stroke-linejoin="miter"/>
</g>
<rect x="454.8" y="123.00" width="17" height="10.75" fill="#6e1c2a"/>
<rect x="454.8" y="133.70" width="17" height="10.75" fill="#82202c"/>
<rect x="454.8" y="144.40" width="17" height="10.75" fill="#94222d"/>
<rect x="454.8" y="155.10" width="17" height="10.75" fill="#a6252e"/>
<rect x="454.8" y="165.80" width="17" height="10.75" fill="#b6292f"/>
<rect x="454.8" y="176.50" width="17" height="10.75" fill="#c42f30"/>
<rect x="454.8" y="187.20" width="17" height="10.75" fill="#d13a33"/>
<rect x="454.8" y="197.90" width="17" height="10.75" fill="#da4a38"/>
<rect x="454.8" y="208.60" width="17" height="10.75" fill="#e05c3e"/>
<rect x="454.8" y="219.30" width="17" height="10.75" fill="#e46e43"/>
<rect x="454.8" y="230.00" width="17" height="10.75" fill="#e77f49"/>
<rect x="454.8" y="240.70" width="17" height="10.75" fill="#ea8f50"/>
<rect x="454.8" y="251.40" width="17" height="10.75" fill="#ec9d59"/>
<rect x="454.8" y="262.10" width="17" height="10.75" fill="#eeab64"/>
<rect x="454.8" y="272.80" width="17" height="10.75" fill="#efb86f"/>
<rect x="454.8" y="283.50" width="17" height="10.75" fill="#f0c47c"/>
<rect x="454.8" y="294.20" width="17" height="10.75" fill="#f1cf88"/>
<rect x="454.8" y="304.90" width="17" height="10.75" fill="#f2d996"/>
<rect x="454.8" y="315.60" width="17" height="10.75" fill="#f2e2a2"/>
<rect x="454.8" y="326.30" width="17" height="10.75" fill="#f3ebb4"/>
<rect x="454.8" y="337.00" width="17" height="10.75" fill="#f3f0c4"/>
<path d="M454.8,133.70 h17" stroke="rgba(90,40,20,0.45)" stroke-width="0.6"/>
<path d="M454.8,144.40 h17" stroke="rgba(90,40,20,0.45)" stroke-width="0.6"/>
<path d="M454.8,155.10 h17" stroke="rgba(90,40,20,0.45)" stroke-width="0.6"/>
<path d="M454.8,165.80 h17" stroke="rgba(90,40,20,0.45)" stroke-width="0.6"/>
<path d="M454.8,176.50 h17" stroke="rgba(90,40,20,0.45)" stroke-width="0.6"/>
<path d="M454.8,187.20 h17" stroke="rgba(90,40,20,0.45)" stroke-width="0.6"/>
<path d="M454.8,197.90 h17" stroke="rgba(90,40,20,0.45)" stroke-width="0.6"/>
<path d="M454.8,208.60 h17" stroke="rgba(90,40,20,0.45)" stroke-width="0.6"/>
<path d="M454.8,219.30 h17" stroke="rgba(90,40,20,0.45)" stroke-width="0.6"/>
<path d="M454.8,230.00 h17" stroke="rgba(90,40,20,0.45)" stroke-width="0.6"/>
<path d="M454.8,240.70 h17" stroke="rgba(90,40,20,0.45)" stroke-width="0.6"/>
<path d="M454.8,251.40 h17" stroke="rgba(90,40,20,0.45)" stroke-width="0.6"/>
<path d="M454.8,262.10 h17" stroke="rgba(90,40,20,0.45)" stroke-width="0.6"/>
<path d="M454.8,272.80 h17" stroke="rgba(90,40,20,0.45)" stroke-width="0.6"/>
<path d="M454.8,283.50 h17" stroke="rgba(90,40,20,0.45)" stroke-width="0.6"/>
<path d="M454.8,294.20 h17" stroke="rgba(90,40,20,0.45)" stroke-width="0.6"/>
<path d="M454.8,304.90 h17" stroke="rgba(90,40,20,0.45)" stroke-width="0.6"/>
<path d="M454.8,315.60 h17" stroke="rgba(90,40,20,0.45)" stroke-width="0.6"/>
<path d="M454.8,326.30 h17" stroke="rgba(90,40,20,0.45)" stroke-width="0.6"/>
<path d="M454.8,337.00 h17" stroke="rgba(90,40,20,0.45)" stroke-width="0.6"/>
<rect x="454.8" y="123.0" width="17" height="224.7" fill="none" stroke="rgba(100,90,110,0.5)" stroke-width="0.5"/>
<text x="475.5" y="133.3" font-size="13.6" fill="#1a1a1a">1</text>
<text x="475.5" y="154.8" font-size="13.6" fill="#1a1a1a">0.9</text>
<text x="475.5" y="176.2" font-size="13.6" fill="#1a1a1a">0.8</text>
<text x="475.5" y="197.5" font-size="13.6" fill="#1a1a1a">0.7</text>
<text x="475.5" y="218.9" font-size="13.6" fill="#1a1a1a">0.6</text>
<text x="475.5" y="240.3" font-size="13.6" fill="#1a1a1a">0.5</text>
<text x="475.5" y="261.8" font-size="13.6" fill="#1a1a1a">0.4</text>
<text x="475.5" y="283.1" font-size="13.6" fill="#1a1a1a">0.3</text>
<text x="475.5" y="304.6" font-size="13.6" fill="#1a1a1a">0.2</text>
<text x="475.5" y="326.0" font-size="13.6" fill="#1a1a1a">0.1</text>
<text x="475.5" y="347.4" font-size="13.6" fill="#1a1a1a">0</text>
<path d="M25.5,362 V18.5 H511.5" fill="none" stroke="#555" stroke-width="1"/>
<path d="M25.5,361.7 H511.5" fill="none" stroke="#667" stroke-width="0.7"/>
</g>
<g id="B">
<rect x="512" y="17.8" width="461.6" height="343.4" fill="#f6f0ea"/>
<path d="M511.9,17.5 V361.4" stroke="#333" stroke-width="1.1"/>
<path d="M511.4,361.1 H974.3" stroke="#4a4a4a" stroke-width="0.8"/>
<path d="M973.4,17.5 V361.4" stroke="#2a2a2a" stroke-width="1.9"/>
<path d="M511.4,17.9 H974.3" stroke="#111" stroke-width="1.5"/>
<text x="521.5" y="37.4" font-size="17.5" fill="#111">B</text>
<rect x="824" y="68.5" width="135.2" height="92.5" rx="10" fill="#d9d5d0"/>
<text x="895.6" y="60.8" font-size="13.8" text-anchor="middle" fill="#111">Tibetan-specific</text>
<path d="M563.3,76.7 L546.4,92.6 L550,105.2 M533.6,109.3 L550,105.2 L588.2,115 M588.2,115 L627.9,120 M588.2,115 L578.4,172.9 M538.2,162.8 L578.4,172.9 M547.4,195.7 L578.4,172.9 M578.4,172.9 L626.1,175 M578.4,172.9 L612.7,203.9 L625,205.5 L631.6,219.4 L655.5,241.3 L667.8,251 L687.2,266.1 M598.8,206.3 L612.7,203.9 M625,205.5 L639,195.7 M612.7,219.1 L631.6,219.4 M605.8,238.3 L627.5,234.2 L655.5,241.3 M594.4,255.5 L617.3,251.4 L639,255.1 L655.5,241.3 M646,156 L664.8,181 M674.9,152.3 L664.8,181 M664.8,181 L669,227.6 L667.8,251 M653.9,208.8 L669,227.6 M687.2,266.1 L687.4,337.6 M687.2,266.1 L697.3,240.2 M697.3,240.2 L703.4,198.1 L705,183.4 M697.3,240.2 L716.2,218.3 L721.4,194 L726.8,184.2 L742.9,150.5 M721.4,194 L719.4,171.1 L708.8,155.4 M726.8,184.2 L738.6,176.4 M716.2,218.3 L729.8,203.6 L744.3,191.3 L772.7,179.3 M729.8,203.6 L742,216.5 M739.6,107.3 L742.9,150.5 M760.7,148.2 L742.9,150.5 M760.7,148.2 L772,129 M760.7,148.2 L783.8,141.3 M742.9,150.5 Q728,149 718.6,143.8 L700.6,137 M698.6,120.8 L718.6,143.8 M683,29.8 L704.2,65.2 M710,28.2 L704.2,65.2 M670.6,47.2 L704.2,65.2 M704.2,65.2 L739.6,107.3 M667.9,100 L739.6,107.3 M648.5,74.5 L667.9,100 M632.8,94.5 L667.9,100 M772.7,179.3 L798.2,156.4 M772.7,179.3 L810.6,171.9 M697.3,240.2 L783.9,217.1 L832.2,188.5 L881.6,161 M783.9,217.1 L828.1,211.4 M832.2,188.5 L870.2,184.5 M832.2,188.5 L859.3,200.1 M713.8,236 L748.2,245.2 L796.5,244.4 M748.2,245.2 L752.2,256 L772.4,258.8 M752.2,256 L772.4,270.6 M774.3,245.2 L793.2,259.1 M881.6,161 L882.6,140 M881.6,161 L901.8,145.1 L926.7,138.1 M842.5,147.1 L868.2,148.7 L882.6,140 M868.2,148.7 L857.3,110.3 M857.3,110.3 L912.1,110.3 M857.3,110.3 L869.4,77.2 L900.5,77.2 L912.1,110.3 M912.1,110.3 L947.3,98 M912.1,110.3 L948.5,121.7" fill="none" stroke="#3a3a3a" stroke-width="0.9"/>
<circle cx="563.3" cy="76.7" r="4.7" fill="#55b94a" stroke="#2a2a2a" stroke-width="0.8"/>
<circle cx="546.4" cy="92.6" r="4.7" fill="#7d2a2a" stroke="#2a2a2a" stroke-width="0.8"/>
<circle cx="533.6" cy="109.3" r="4.7" fill="#f59a2d" stroke="#2a2a2a" stroke-width="0.8"/>
<circle cx="627.9" cy="120" r="4.7" fill="#55b94a" stroke="#2a2a2a" stroke-width="0.8"/>
<circle cx="538.2" cy="162.8" r="4.7" fill="#55b94a" stroke="#2a2a2a" stroke-width="0.8"/>
<circle cx="547.4" cy="195.7" r="4.7" fill="#55b94a" stroke="#2a2a2a" stroke-width="0.8"/>
<circle cx="598.8" cy="206.3" r="4.7" fill="#55b94a" stroke="#2a2a2a" stroke-width="0.8"/>
<circle cx="639" cy="195.7" r="4.7" fill="#55b94a" stroke="#2a2a2a" stroke-width="0.8"/>
<circle cx="612.7" cy="219.1" r="4.7" fill="#55b94a" stroke="#2a2a2a" stroke-width="0.8"/>
<circle cx="605.8" cy="238.3" r="4.7" fill="#55b94a" stroke="#2a2a2a" stroke-width="0.8"/>
<circle cx="594.4" cy="255.5" r="4.7" fill="#55b94a" stroke="#2a2a2a" stroke-width="0.8"/>
<circle cx="617.3" cy="251.4" r="4.7" fill="#55b94a" stroke="#2a2a2a" stroke-width="0.8"/>
<circle cx="639" cy="255.1" r="4.7" fill="#55b94a" stroke="#2a2a2a" stroke-width="0.8"/>
<circle cx="646" cy="156" r="4.7" fill="#7d2a2a" stroke="#2a2a2a" stroke-width="0.8"/>
<circle cx="674.9" cy="152.3" r="4.7" fill="#7d2a2a" stroke="#2a2a2a" stroke-width="0.8"/>
<circle cx="653.9" cy="208.8" r="4.7" fill="#7d2a2a" stroke="#2a2a2a" stroke-width="0.8"/>
<circle cx="703.4" cy="198.1" r="4.7" fill="#7d2a2a" stroke="#2a2a2a" stroke-width="0.8"/>
<circle cx="705" cy="183.4" r="4.7" fill="#7d2a2a" stroke="#2a2a2a" stroke-width="0.8"/>
<circle cx="719.4" cy="171.1" r="4.7" fill="#55b94a" stroke="#2a2a2a" stroke-width="0.8"/>
<circle cx="708.8" cy="155.4" r="4.7" fill="#55b94a" stroke="#2a2a2a" stroke-width="0.8"/>
<circle cx="738.6" cy="176.4" r="4.7" fill="#3f7d45" stroke="#2a2a2a" stroke-width="0.8"/>
<circle cx="744.3" cy="191.3" r="4.7" fill="#f59a2d" stroke="#2a2a2a" stroke-width="0.8"/>
<circle cx="760.7" cy="148.2" r="4.7" fill="#55b94a" stroke="#2a2a2a" stroke-width="0.8"/>
<circle cx="783.8" cy="141.3" r="4.7" fill="#3f7d45" stroke="#2a2a2a" stroke-width="0.8"/>
<circle cx="700.6" cy="137" r="4.7" fill="#55b94a" stroke="#2a2a2a" stroke-width="0.8"/>
<circle cx="698.6" cy="120.8" r="4.7" fill="#55b94a" stroke="#2a2a2a" stroke-width="0.8"/>
<circle cx="683" cy="29.8" r="4.7" fill="#ede84d" stroke="#2a2a2a" stroke-width="0.8"/>
<circle cx="710" cy="28.2" r="4.7" fill="#55b94a" stroke="#2a2a2a" stroke-width="0.8"/>
<circle cx="670.6" cy="47.2" r="4.7" fill="#55b94a" stroke="#2a2a2a" stroke-width="0.8"/>
<circle cx="798.2" cy="156.4" r="4.7" fill="#7d2a2a" stroke="#2a2a2a" stroke-width="0.8"/>
<circle cx="870.2" cy="184.5" r="4.7" fill="#2b55a8" stroke="#2a2a2a" stroke-width="0.8"/>
<circle cx="859.3" cy="200.1" r="4.7" fill="#2b55a8" stroke="#2a2a2a" stroke-width="0.8"/>
<circle cx="796.5" cy="244.4" r="4.7" fill="#55b94a" stroke="#2a2a2a" stroke-width="0.8"/>
<circle cx="793.2" cy="259.1" r="4.7" fill="#55b94a" stroke="#2a2a2a" stroke-width="0.8"/>
<circle cx="772.4" cy="258.8" r="4.7" fill="#7d2a2a" stroke="#2a2a2a" stroke-width="0.8"/>
<circle cx="772.4" cy="270.6" r="4.7" fill="#7d2a2a" stroke="#2a2a2a" stroke-width="0.8"/>
<circle cx="842.5" cy="147.1" r="4.7" fill="#55b94a" stroke="#2a2a2a" stroke-width="0.8"/>
<circle cx="901.8" cy="145.1" r="4.7" fill="#ede84d" stroke="#2a2a2a" stroke-width="0.8"/>
<circle cx="947.3" cy="98" r="4.7" fill="#ede84d" stroke="#2a2a2a" stroke-width="0.8"/>
<circle cx="948.5" cy="121.7" r="4.7" fill="#ede84d" stroke="#2a2a2a" stroke-width="0.8"/>
<circle cx="627.5" cy="234.2" r="6.2" fill="#55b94a" stroke="#2a2a2a" stroke-width="0.8"/>
<circle cx="742" cy="216.5" r="7.4" fill="#55b94a" stroke="#2a2a2a" stroke-width="0.8"/>
<circle cx="772" cy="129" r="7.5" fill="#ede84d" stroke="#2a2a2a" stroke-width="0.8"/>
<circle cx="810.6" cy="171.9" r="6.2" fill="#ede84d" stroke="#2a2a2a" stroke-width="0.8"/>
<circle cx="828.1" cy="211.4" r="6.2" fill="#e8282b" stroke="#2a2a2a" stroke-width="0.8"/>
<circle cx="882.6" cy="140" r="6.2" fill="#ede84d" stroke="#2a2a2a" stroke-width="0.8"/>
<circle cx="926.7" cy="138.1" r="6.2" fill="#ede84d" stroke="#2a2a2a" stroke-width="0.8"/>
<circle cx="900.5" cy="77.2" r="6.2" fill="#ede84d" stroke="#2a2a2a" stroke-width="0.8"/>
<circle cx="664.8" cy="181" r="14.8" fill="#7d2a2a" stroke="#2a2a2a" stroke-width="0.8"/>
<circle cx="857.3" cy="110.3" r="21" fill="#ede84d" stroke="#2a2a2a" stroke-width="0.8"/>
<circle cx="912.1" cy="110.3" r="21" fill="#ede84d" stroke="#2a2a2a" stroke-width="0.8"/>
<circle cx="687.4" cy="337.6" r="4.7" fill="#666a70" stroke="#2a2a2a" stroke-width="0.8"/>
<circle cx="588.2" cy="115" r="25" fill="#55b94a"/><path d="M588.2,115 L605.88,97.32 A25,25 0 0 0 570.52,97.32Z" fill="#3f7d45"/><path d="M588.2,115 L613.20,115.00 A25,25 0 0 0 605.88,97.32Z" fill="#7d2a2a"/><circle cx="588.2" cy="115" r="25" fill="none" stroke="#2a2a2a" stroke-width="0.8"/>
<circle cx="578.4" cy="173" r="25" fill="#55b94a"/><path d="M578.4,173 L596.98,189.73 A25,25 0 0 0 603.40,173.00Z" fill="#ede84d"/><path d="M578.4,173 L603.40,173.00 A25,25 0 0 0 600.68,161.65Z" fill="#7d2a2a"/><path d="M578.4,173 L600.68,161.65 A25,25 0 0 0 598.63,158.31Z" fill="#3f7d45"/><circle cx="578.4" cy="173" r="25" fill="none" stroke="#2a2a2a" stroke-width="0.8"/>
<circle cx="626.1" cy="175" r="8.2" fill="#55b94a"/><path d="M626.1,175 L620.30,180.80 A8.2,8.2 0 0 0 631.90,169.20Z" fill="#ede84d"/><circle cx="626.1" cy="175" r="8.2" fill="none" stroke="#2a2a2a" stroke-width="0.8"/>
<circle cx="632.8" cy="94.5" r="6.9" fill="#55b94a"/><path d="M632.8,94.5 L639.05,91.58 A6.9,6.9 0 0 0 626.55,91.58Z" fill="#7d2a2a"/><circle cx="632.8" cy="94.5" r="6.9" fill="none" stroke="#2a2a2a" stroke-width="0.8"/>
<circle cx="648.5" cy="74.5" r="6.2" fill="#55b94a"/><path d="M648.5,74.5 L642.67,76.62 A6.2,6.2 0 0 0 654.33,72.38Z" fill="#3f7d45"/><circle cx="648.5" cy="74.5" r="6.2" fill="none" stroke="#2a2a2a" stroke-width="0.8"/>
<circle cx="667.9" cy="100" r="15.6" fill="#7d2a2a"/><path d="M667.9,100 L682.65,94.92 A15.6,15.6 0 0 0 662.82,85.25Z" fill="#3f7d45"/><circle cx="667.9" cy="100" r="15.6" fill="none" stroke="#2a2a2a" stroke-width="0.8"/>
<circle cx="704.2" cy="65.2" r="21.6" fill="#55b94a"/><path d="M704.2,65.2 L722.91,76.00 A21.6,21.6 0 0 0 724.67,58.31Z" fill="#ede84d"/><path d="M704.2,65.2 L724.67,58.31 A21.6,21.6 0 0 0 721.89,52.81Z" fill="#3f7d45"/><circle cx="704.2" cy="65.2" r="21.6" fill="none" stroke="#2a2a2a" stroke-width="0.8"/>
<circle cx="739.6" cy="107.3" r="26.5" fill="#55b94a"/><path d="M739.6,107.3 L764.26,97.59 A26.5,26.5 0 0 0 715.03,97.37Z" fill="#3f7d45"/><path d="M739.6,107.3 L766.10,107.30 A26.5,26.5 0 0 0 764.26,97.59Z" fill="#ede84d"/><circle cx="739.6" cy="107.3" r="26.5" fill="none" stroke="#2a2a2a" stroke-width="0.8"/>
<circle cx="772.7" cy="179.3" r="21" fill="#3f7d45"/><path d="M772.7,179.3 L792.31,171.77 A21,21 0 0 0 772.70,158.30Z" fill="#7d2a2a"/><path d="M772.7,179.3 L793.69,178.57 A21,21 0 0 0 792.31,171.77Z" fill="#ede84d"/><path d="M772.7,179.3 L777.78,199.68 A21,21 0 0 0 793.69,178.57Z" fill="#55b94a"/><circle cx="772.7" cy="179.3" r="21" fill="none" stroke="#2a2a2a" stroke-width="0.8"/>
<circle cx="869.4" cy="77.2" r="6.2" fill="#ede84d"/><path d="M875.54,76.34 A6.2,6.2 0 0 0 863.26,76.34Z" fill="#55b94a"/><circle cx="869.4" cy="77.2" r="6.2" fill="none" stroke="#2a2a2a" stroke-width="0.8"/>
<text x="699.5" y="345.3" font-size="14" fill="#111">Ancestral</text>
<rect x="882.3" y="228.5" width="91" height="118.8" fill="#fff" stroke="#666" stroke-width="1"/>
<circle cx="892.3" cy="238.3" r="4.6" fill="#e8282b" stroke="#2a2a2a" stroke-width="0.7"/>
<text x="901.8" y="242.60000000000002" font-size="12" fill="#111">Neanderthal</text>
<circle cx="892.3" cy="254.6" r="4.6" fill="#2b55a8" stroke="#2a2a2a" stroke-width="0.7"/>
<text x="901.8" y="258.9" font-size="12" fill="#111">Denisovan</text>
<circle cx="892.3" cy="271.5" r="4.6" fill="#f59a2d" stroke="#2a2a2a" stroke-width="0.7"/>
<text x="901.8" y="275.8" font-size="12" fill="#111">Ust-I’shim</text>
<circle cx="892.3" cy="287.9" r="4.6" fill="#7d2a2a" stroke="#2a2a2a" stroke-width="0.7"/>
<text x="901.8" y="292.2" font-size="12" fill="#111">African</text>
<circle cx="892.3" cy="305.2" r="4.6" fill="#3f7d45" stroke="#2a2a2a" stroke-width="0.7"/>
<text x="901.8" y="309.5" font-size="12" fill="#111">South Asian</text>
<circle cx="892.9" cy="322" r="4.6" fill="#55b94a" stroke="#2a2a2a" stroke-width="0.7"/>
<text x="902.9" y="326.3" font-size="12" fill="#111">East Asian</text>
<circle cx="892.9" cy="338.5" r="4.6" fill="#ede84d" stroke="#2a2a2a" stroke-width="0.7"/>
<text x="902.9" y="342.8" font-size="12" fill="#111">TIB</text>
</g>
<text transform="translate(6.9,38.6) scale(0.9,1)" font-size="20.8" fill="#231f20" stroke="#231f20" stroke-width="0.9">A</text>
<text transform="translate(7.2,389.5) scale(0.9,1)" font-size="20.8" fill="#231f20" stroke="#231f20" stroke-width="0.9">C</text>
<text transform="translate(505.5,388.6) scale(0.9,1)" font-size="20.8" fill="#231f20" stroke="#231f20" stroke-width="0.9">D</text>
<text transform="translate(7.4,724.5) scale(0.9,1)" font-size="20.8" fill="#231f20" stroke="#231f20" stroke-width="0.9">E</text>
<text transform="translate(638.4,722.3) scale(0.9,1)" font-size="20.8" fill="#231f20" stroke="#231f20" stroke-width="0.9">F</text>
<g id="C" font-weight="bold" fill="#000" stroke="#000" stroke-width="0.3">
<path d="M76,645 V399.5" stroke="#000" stroke-width="2" fill="none"/>
<path d="M75,645 H477.5" stroke="#000" stroke-width="2" fill="none"/>
<path d="M71,644.5 H76" stroke="#000" stroke-width="1.6"/>
<text x="69.8" y="651.6" font-size="12.1" text-anchor="end">0.0</text>
<path d="M71,620.0 H76" stroke="#000" stroke-width="1.6"/>
<text x="69.8" y="627.1" font-size="12.1" text-anchor="end">0.1</text>
<path d="M71,595.5 H76" stroke="#000" stroke-width="1.6"/>
<text x="69.8" y="602.6" font-size="12.1" text-anchor="end">0.2</text>
<path d="M71,571.0 H76" stroke="#000" stroke-width="1.6"/>
<text x="69.8" y="578.1" font-size="12.1" text-anchor="end">0.3</text>
<path d="M71,546.5 H76" stroke="#000" stroke-width="1.6"/>
<text x="69.8" y="553.6" font-size="12.1" text-anchor="end">0.4</text>
<path d="M71,522.0 H76" stroke="#000" stroke-width="1.6"/>
<text x="69.8" y="529.1" font-size="12.1" text-anchor="end">0.5</text>
<path d="M71,497.5 H76" stroke="#000" stroke-width="1.6"/>
<text x="69.8" y="504.6" font-size="12.1" text-anchor="end">0.6</text>
<path d="M71,473.0 H76" stroke="#000" stroke-width="1.6"/>
<text x="69.8" y="480.1" font-size="12.1" text-anchor="end">0.7</text>
<path d="M71,448.5 H76" stroke="#000" stroke-width="1.6"/>
<text x="69.8" y="455.6" font-size="12.1" text-anchor="end">0.8</text>
<path d="M71,424.0 H76" stroke="#000" stroke-width="1.6"/>
<text x="69.8" y="431.1" font-size="12.1" text-anchor="end">0.9</text>
<path d="M71,399.5 H76" stroke="#000" stroke-width="1.6"/>
<text x="69.8" y="406.6" font-size="12.1" text-anchor="end">1.0</text>
<path d="M76.0,645 V649" stroke="#000" stroke-width="1.6"/>
<text x="76.0" y="660.6" font-size="12" text-anchor="middle">0</text>
<path d="M112.5,645 V649" stroke="#000" stroke-width="1.6"/>
<text x="112.5" y="660.6" font-size="12" text-anchor="middle">500</text>
<path d="M149.0,645 V649" stroke="#000" stroke-width="1.6"/>
<text x="149.0" y="660.6" font-size="12" text-anchor="middle">1000</text>
<path d="M185.5,645 V649" stroke="#000" stroke-width="1.6"/>
<text x="185.5" y="660.6" font-size="12" text-anchor="middle">1500</text>
<path d="M222.0,645 V649" stroke="#000" stroke-width="1.6"/>
<text x="222.0" y="660.6" font-size="12" text-anchor="middle">2000</text>
<path d="M258.5,645 V649" stroke="#000" stroke-width="1.6"/>
<text x="258.5" y="660.6" font-size="12" text-anchor="middle">2500</text>
<path d="M295.0,645 V649" stroke="#000" stroke-width="1.6"/>
<text x="295.0" y="660.6" font-size="12" text-anchor="middle">3000</text>
<path d="M331.5,645 V649" stroke="#000" stroke-width="1.6"/>
<text x="331.5" y="660.6" font-size="12" text-anchor="middle">3500</text>
<path d="M368.0,645 V649" stroke="#000" stroke-width="1.6"/>
<text x="368.0" y="660.6" font-size="12" text-anchor="middle">4000</text>
<path d="M404.5,645 V649" stroke="#000" stroke-width="1.6"/>
<text x="404.5" y="660.6" font-size="12" text-anchor="middle">4500</text>
<path d="M441.0,645 V649" stroke="#000" stroke-width="1.6"/>
<text x="441.0" y="660.6" font-size="12" text-anchor="middle">5000</text>
<path d="M477.5,645 V649" stroke="#000" stroke-width="1.6"/>
<text x="477.5" y="660.6" font-size="12" text-anchor="middle">5500</text>
<text x="266.5" y="681.8" font-size="13.3" text-anchor="middle">Altitude (meter)</text>
<text transform="translate(40.6,526) rotate(-90)" font-size="14.6" textLength="186" lengthAdjust="spacing" text-anchor="middle">Frequency of &#160;rs116983452-T</text>
<path d="M88.5,644 L443,418.7" stroke="#ee2a2a" stroke-width="2.2" fill="none"/>
<circle cx="389.5" cy="399.5" r="6.2" fill="#2a70bd" stroke="#2b5fa0" stroke-width="0.8"/>
<circle cx="342.5" cy="439.5" r="6.2" fill="#2a70bd" stroke="#2b5fa0" stroke-width="0.8"/>
<circle cx="356" cy="445" r="6.2" fill="#2a70bd" stroke="#2b5fa0" stroke-width="0.8"/>
<circle cx="346" cy="452" r="6.2" fill="#2a70bd" stroke="#2b5fa0" stroke-width="0.8"/>
<circle cx="405.5" cy="440" r="6.2" fill="#2a70bd" stroke="#2b5fa0" stroke-width="0.8"/>
<circle cx="442" cy="445" r="6.2" fill="#2a70bd" stroke="#2b5fa0" stroke-width="0.8"/>
<circle cx="426.5" cy="457" r="6.2" fill="#2a70bd" stroke="#2b5fa0" stroke-width="0.8"/>
<circle cx="419" cy="467" r="6.2" fill="#2a70bd" stroke="#2b5fa0" stroke-width="0.8"/>
<circle cx="317.5" cy="481" r="6.2" fill="#2a70bd" stroke="#2b5fa0" stroke-width="0.8"/>
<circle cx="353" cy="497.5" r="6.2" fill="#2a70bd" stroke="#2b5fa0" stroke-width="0.8"/>
<circle cx="295" cy="521.5" r="6.2" fill="#2a70bd" stroke="#2b5fa0" stroke-width="0.8"/>
<circle cx="84.4" cy="619.7" r="6.2" fill="#2a70bd" stroke="#2b5fa0" stroke-width="0.8"/>
<circle cx="78.9" cy="634.8" r="6.2" fill="#2a70bd" stroke="#2b5fa0" stroke-width="0.8"/>
<circle cx="84.4" cy="637.3" r="6.2" fill="#2a70bd" stroke="#2b5fa0" stroke-width="0.8"/>
<circle cx="77.6" cy="639.1" r="6.2" fill="#2a70bd" stroke="#2b5fa0" stroke-width="0.8"/>
<circle cx="83.2" cy="641.6" r="6.2" fill="#2a70bd" stroke="#2b5fa0" stroke-width="0.8"/>
<circle cx="77.6" cy="644" r="6.2" fill="#2a70bd" stroke="#2b5fa0" stroke-width="0.8"/>
<circle cx="80.1" cy="642.8" r="6.2" fill="#2a70bd" stroke="#2b5fa0" stroke-width="0.8"/>
<circle cx="143.3" cy="634.2" r="6.2" fill="#2a70bd" stroke="#2b5fa0" stroke-width="0.8"/>
<circle cx="143.3" cy="640.4" r="6.2" fill="#2a70bd" stroke="#2b5fa0" stroke-width="0.8"/>
<text x="347" y="405" font-size="10.6">Dingri</text>
<text x="300" y="441" font-size="10.6">Lhasa</text>
<text x="288" y="457" font-size="10.6">Shannan</text>
<text x="361" y="461" font-size="10.6">Shigatse</text>
<text x="391" y="430" font-size="10.6">Naqu</text>
<text x="440" y="436" font-size="10.6">Langkazi</text>
<text x="436.5" y="466" font-size="10.6">Bange</text>
<text x="427.5" y="482.5" font-size="10.6">Kangma</text>
<text x="269" y="486" font-size="10.6">Qamdo</text>
<text x="334.5" y="517.5" font-size="10.6">Sherpa</text>
<text x="273" y="540" font-size="10.6">Nyingchi</text>
</g>
<g id="D" font-weight="bold" fill="#000" stroke="#000" stroke-width="0.3">
<path d="M707.8,399 V644" stroke="#1a1a1a" stroke-width="1.4" stroke-dasharray="2.2,1.6" fill="none"/>
<path d="M597.5,635.5 L597.5,622.5 L602.5,617.5 L604,611 L610,610 L610,603 L636,603 L636,594 L640,589 L650,587.5 L652.5,581 L670,580.5 L672.5,575 L678,574 L679,569 L701,568 L702.5,545 L705,540 L707,409.5 L708.5,545 L709.5,574 L716,574 L719,580 L732.5,584 L735,600 L740,610 L744,614 L755,615 L808,616 L808.5,622 L809,635.5" stroke="#b5282e" stroke-width="2" stroke-dasharray="5,2.4" fill="none"/>
<path d="M648,635.5 L648,619 L660,617.5 L666,614 L667.5,607.5 L671,606 L671,572.5 L673.6,571 L673.6,537.8 L677.6,537.8 L677.6,527 L699.6,527 L699.6,407.7 L715,407.7 L716.5,416 L718.6,416 L720,431.8 L724,431.8 L724.5,498 L738.3,499.5 L738.3,516.3 L747.7,516.3 L747.7,522 L763.3,522 L766,530 L769.3,535 L777,535 L779.5,545 L811,545 L811,571 L858,571 L860,605.5 L898.5,606 L900,621 L950.5,621 L952,624 L958,624" stroke="#b5282e" stroke-width="2.4" fill="none" stroke-linejoin="miter"/>
<path d="M624.5,635.5 L624.5,625 L636,617.5 L637.5,611 L650,609 L654,601 L662.5,594 L670,585 L680,577.5 L684,571 L690,567 L700,565.5 L702.5,557.5 L704,545 L706,544 L707.5,409.5 L709.5,544 L712.5,545 L714,559 L717.5,565 L720,571 L726,574 L732.5,580 L735,597.5 L740,602.5 L754,607 L783,609 L793,614 L817,616.5 L828,622 L831,626 L831,635.5" stroke="#2a86d8" stroke-width="2" stroke-dasharray="4.5,2.4" fill="none"/>
<path d="M584,635.7 H958" stroke="#2a7fd0" stroke-width="2.6" fill="none"/>
<path d="M707.6,635 V410" stroke="#2a7fd0" stroke-width="2" fill="none"/>
<path d="M583.4,407.6 V637" stroke="#000" stroke-width="3" fill="none"/>
<path d="M623.6,644.7 H959" stroke="#000" stroke-width="2.2" fill="none"/>
<path d="M578,635.4 H584" stroke="#000" stroke-width="1.9"/>
<text x="573.2" y="640.8" font-size="11.8" text-anchor="end">0.0</text>
<path d="M578,590.15 H584" stroke="#000" stroke-width="1.9"/>
<text x="573.2" y="595.55" font-size="11.8" text-anchor="end">0.2</text>
<path d="M578,544.9 H584" stroke="#000" stroke-width="1.9"/>
<text x="573.2" y="550.3" font-size="11.8" text-anchor="end">0.4</text>
<path d="M578,499.65 H584" stroke="#000" stroke-width="1.9"/>
<text x="573.2" y="505.04999999999995" font-size="11.8" text-anchor="end">0.6</text>
<path d="M578,454.4 H584" stroke="#000" stroke-width="1.9"/>
<text x="573.2" y="459.79999999999995" font-size="11.8" text-anchor="end">0.8</text>
<path d="M578,409.15 H584" stroke="#000" stroke-width="1.9"/>
<text x="573.2" y="414.54999999999995" font-size="11.8" text-anchor="end">1.0</text>
<path d="M624.7,645 V652.6" stroke="#000" stroke-width="2"/>
<text x="623.8" y="666.8" font-size="12.3" text-anchor="middle">46.68</text>
<path d="M680.2,645 V652.6" stroke="#000" stroke-width="2"/>
<text x="679.3" y="666.8" font-size="12.3" text-anchor="middle">46.70</text>
<path d="M735.7,645 V652.6" stroke="#000" stroke-width="2"/>
<text x="734.8" y="666.8" font-size="12.3" text-anchor="middle">46.72</text>
<path d="M791.2,645 V652.6" stroke="#000" stroke-width="2"/>
<text x="790.3" y="666.8" font-size="12.3" text-anchor="middle">46.74</text>
<path d="M846.7,645 V652.6" stroke="#000" stroke-width="2"/>
<text x="845.8" y="666.8" font-size="12.3" text-anchor="middle">46.76</text>
<path d="M902.2,645 V652.6" stroke="#000" stroke-width="2"/>
<text x="901.3" y="666.8" font-size="12.3" text-anchor="middle">46.78</text>
<path d="M957.7,645 V652.6" stroke="#000" stroke-width="2"/>
<text x="956.8" y="666.8" font-size="12.3" text-anchor="middle">46.80</text>
<text x="775.5" y="688.2" font-size="13.2" text-anchor="middle">Position on chromosome 2 (Mb)</text>
<text transform="translate(536.5,523.5) rotate(-90)" font-size="13.1" text-anchor="middle">Extended haplotype homozygosity (EHH)</text>
<path d="M826.7,404.3 H866" stroke="#b5282e" stroke-width="2.6"/>
<text x="873.2" y="408.40000000000003" font-size="11.5">TIB-T allele</text>
<path d="M826.7,419 H866" stroke="#b5282e" stroke-width="1.8" stroke-dasharray="5.6,2.4"/>
<text x="873.2" y="423.1" font-size="11.5">TIB-C allele</text>
<path d="M826.7,433.6 H866" stroke="#2a7fd0" stroke-width="2.7"/>
<text x="873.2" y="437.70000000000005" font-size="11.5">HAN-T allele</text>
<path d="M826.7,447.8 H866" stroke="#2a86d8" stroke-width="1.8" stroke-dasharray="5.6,2.4"/>
<text x="873.2" y="451.90000000000003" font-size="11.5">HAN-C allele</text>
</g>
<g id="E" font-size="14.1" fill="#111">
<rect x="33" y="721" width="580" height="72.5" fill="#f6f0ea"/>
<rect x="33" y="828" width="580" height="36" fill="#f6f0ea"/>
<rect x="33" y="900" width="580" height="37.5" fill="#f6f0ea"/>
<path d="M33,721 H613" stroke="#000" stroke-width="1.8"/>
<path d="M33,793.3 H613" stroke="#000" stroke-width="1.5"/>
<path d="M33,827.7 H613" stroke="#000" stroke-width="1.1"/>
<path d="M33,863.8 H613" stroke="#000" stroke-width="1.1"/>
<path d="M31,937.6 H611" stroke="#000" stroke-width="1.8"/>
<path d="M87,758.5 H399.5" stroke="#555" stroke-width="0.8"/>
<text x="58" y="763" text-anchor="middle">Trait</text>
<text x="240" y="746" text-anchor="middle">Genotypes of rs116983452</text>
<text x="134" y="782" text-anchor="middle">CC</text>
<text x="240" y="782" text-anchor="middle">CT</text>
<text x="347.5" y="782" text-anchor="middle">TT</text>
<text x="447" y="764" text-anchor="middle">adjusted <tspan font-style="italic">p</tspan></text>
<text x="547" y="754.5" text-anchor="middle">adjusted <tspan font-style="italic">p</tspan> in</text>
<text x="549" y="771" text-anchor="middle">validation analysis</text>
<text x="62.5" y="815.5" text-anchor="middle" fill="#000" font-weight="bold" stroke-width="0.35" stroke="#000">UA</text>
<text x="133.5" y="815.5" text-anchor="middle" font-weight="bold" stroke-width="0.35" stroke="#000">344.28 ± 93.12</text>
<text x="240" y="815.5" text-anchor="middle" font-weight="bold" stroke-width="0.35" stroke="#000">334.35 ± 91.59</text>
<text x="347.5" y="815.5" text-anchor="middle" font-weight="bold" stroke-width="0.35" stroke="#000">327.91 ± 86.63</text>
<text x="445.5" y="815.5" text-anchor="middle" font-weight="bold" stroke-width="0.35" stroke="#000">0.031</text>
<text x="549" y="815.5" text-anchor="middle" font-weight="bold" stroke-width="0.35" stroke="#000">NA</text>
<text x="62.5" y="849" text-anchor="middle" fill="#111">RBC</text>
<text x="133.5" y="849" text-anchor="middle">5.06 ± 0.76</text>
<text x="240" y="849" text-anchor="middle">4.93 ± 0.71</text>
<text x="347.5" y="849" text-anchor="middle">4.82 ± 0.67</text>
<text x="450.5" y="849" text-anchor="middle">5.72 × 10<tspan font-size="9.5">-7</tspan></text>
<text x="549" y="849" text-anchor="middle">0.181</text>
<text x="62.5" y="887" text-anchor="middle" fill="#ee2a2a" font-weight="bold" stroke-width="0.35" stroke="#ee2a2a">HGB</text>
<text x="133.5" y="887" text-anchor="middle" font-weight="bold" stroke-width="0.35" stroke="#000">163.57 ± 29.32</text>
<text x="240" y="887" text-anchor="middle" font-weight="bold" stroke-width="0.35" stroke="#000">157.73 ± 28.22</text>
<text x="347.5" y="887" text-anchor="middle" font-weight="bold" stroke-width="0.35" stroke="#000">155.52 ± 26.35</text>
<text x="450.5" y="887" text-anchor="middle" font-weight="bold" stroke-width="0.35" stroke="#000">5.78 × 10<tspan font-size="9.5" dy="-5.5">-5</tspan></text>
<text x="553.5" y="887" text-anchor="middle" font-weight="bold" stroke-width="0.35" stroke="#000">4.87 × 10<tspan font-size="9.5" dy="-5.5">-3</tspan></text>
<text x="62.5" y="923.5" text-anchor="middle" fill="#ee2a2a">HCT</text>
<text x="133.5" y="923.5" text-anchor="middle">47.27 ± 7.98</text>
<text x="240" y="923.5" text-anchor="middle">45.54 ± 7.63</text>
<text x="347.5" y="923.5" text-anchor="middle">44.84 ± 7.12</text>
<text x="450.5" y="923.5" text-anchor="middle">2.57 × 10<tspan font-size="9.5" dy="-5.5">-6</tspan></text>
<text x="553.5" y="923.5" text-anchor="middle">4.87 × 10<tspan font-size="9.5" dy="-5.5">-3</tspan></text>
</g>
<g id="F" font-weight="bold" fill="#000" stroke="#000" stroke-width="0.3">
<rect x="691.3" y="713" width="271" height="217.5" fill="none" stroke="#000" stroke-width="1.7"/>
<path d="M686,921.5 H691" stroke="#000" stroke-width="1.6"/>
<text x="679" y="925.8" font-size="12" text-anchor="middle">0</text>
<path d="M686,863 H691" stroke="#000" stroke-width="1.6"/>
<text x="679" y="867.3" font-size="12" text-anchor="middle">1</text>
<path d="M686,803.8 H691" stroke="#000" stroke-width="1.6"/>
<text x="679" y="808.0999999999999" font-size="12" text-anchor="middle">2</text>
<path d="M686,745 H691" stroke="#000" stroke-width="1.6"/>
<text x="679" y="749.3" font-size="12" text-anchor="middle">3</text>
<path d="M743,930.5 V936" stroke="#000" stroke-width="1.6"/>
<text x="743" y="949.5" font-size="11.8" text-anchor="middle">CC</text>
<path d="M826.5,930.5 V936" stroke="#000" stroke-width="1.6"/>
<text x="826.5" y="949.5" font-size="11.8" text-anchor="middle">CT</text>
<path d="M910,930.5 V936" stroke="#000" stroke-width="1.6"/>
<text x="910" y="949.5" font-size="11.8" text-anchor="middle">TT</text>
<text x="826" y="967.5" font-size="13.5" text-anchor="middle">Genotypes of rs116983452</text>
<text transform="translate(662.5,829) rotate(-90)" font-size="13.5" text-anchor="middle">Expression of <tspan font-style="italic">TMEM247</tspan></text>
<path d="M725.5,764.5 H760.5 M725.5,905.5 H760.5" stroke="#000" stroke-width="2"/><path d="M743,764.5 V807 M743,858 V905.5" stroke="#000" stroke-width="1.6" stroke-dasharray="5,3.8"/>
<path d="M892.5,827.5 H928 M892.5,921.5 H928" stroke="#000" stroke-width="2"/><path d="M910,827.5 V853 M910,896 V921.5" stroke="#000" stroke-width="1.6" stroke-dasharray="5,3.8"/>
<rect x="708.8" y="807" width="68.70000000000005" height="51" fill="#2a72b9" stroke="#0e1a2b" stroke-width="1.6"/>
<path d="M708.8,830.7 H777.5" stroke="#0e1a2b" stroke-width="1.4"/>
<rect x="792.6" y="833" width="68.19999999999993" height="39.299999999999955" fill="#2a72b9" stroke="#0e1a2b" stroke-width="1.6"/>
<path d="M792.6,852.7 H860.8" stroke="#0e1a2b" stroke-width="1.4"/>
<rect x="876" y="853" width="68.5" height="43" fill="#2a72b9" stroke="#0e1a2b" stroke-width="1.6"/>
<path d="M876,873.5 H944.5" stroke="#0e1a2b" stroke-width="1.4"/>
<path d="M742,750 V735.7 H909.8 V750" stroke="#000" stroke-width="1.8" fill="none"/>
<path d="M738,746 L742,751.5 L746,746 M905.8,746 L909.8,751.5 L913.8,746" stroke="#000" stroke-width="1.8" fill="none"/>
<text x="821.5" y="730.5" font-size="11.8" text-anchor="middle"><tspan font-style="italic">p</tspan> = 0.001</text>
</g>
</svg>
</body></html>
